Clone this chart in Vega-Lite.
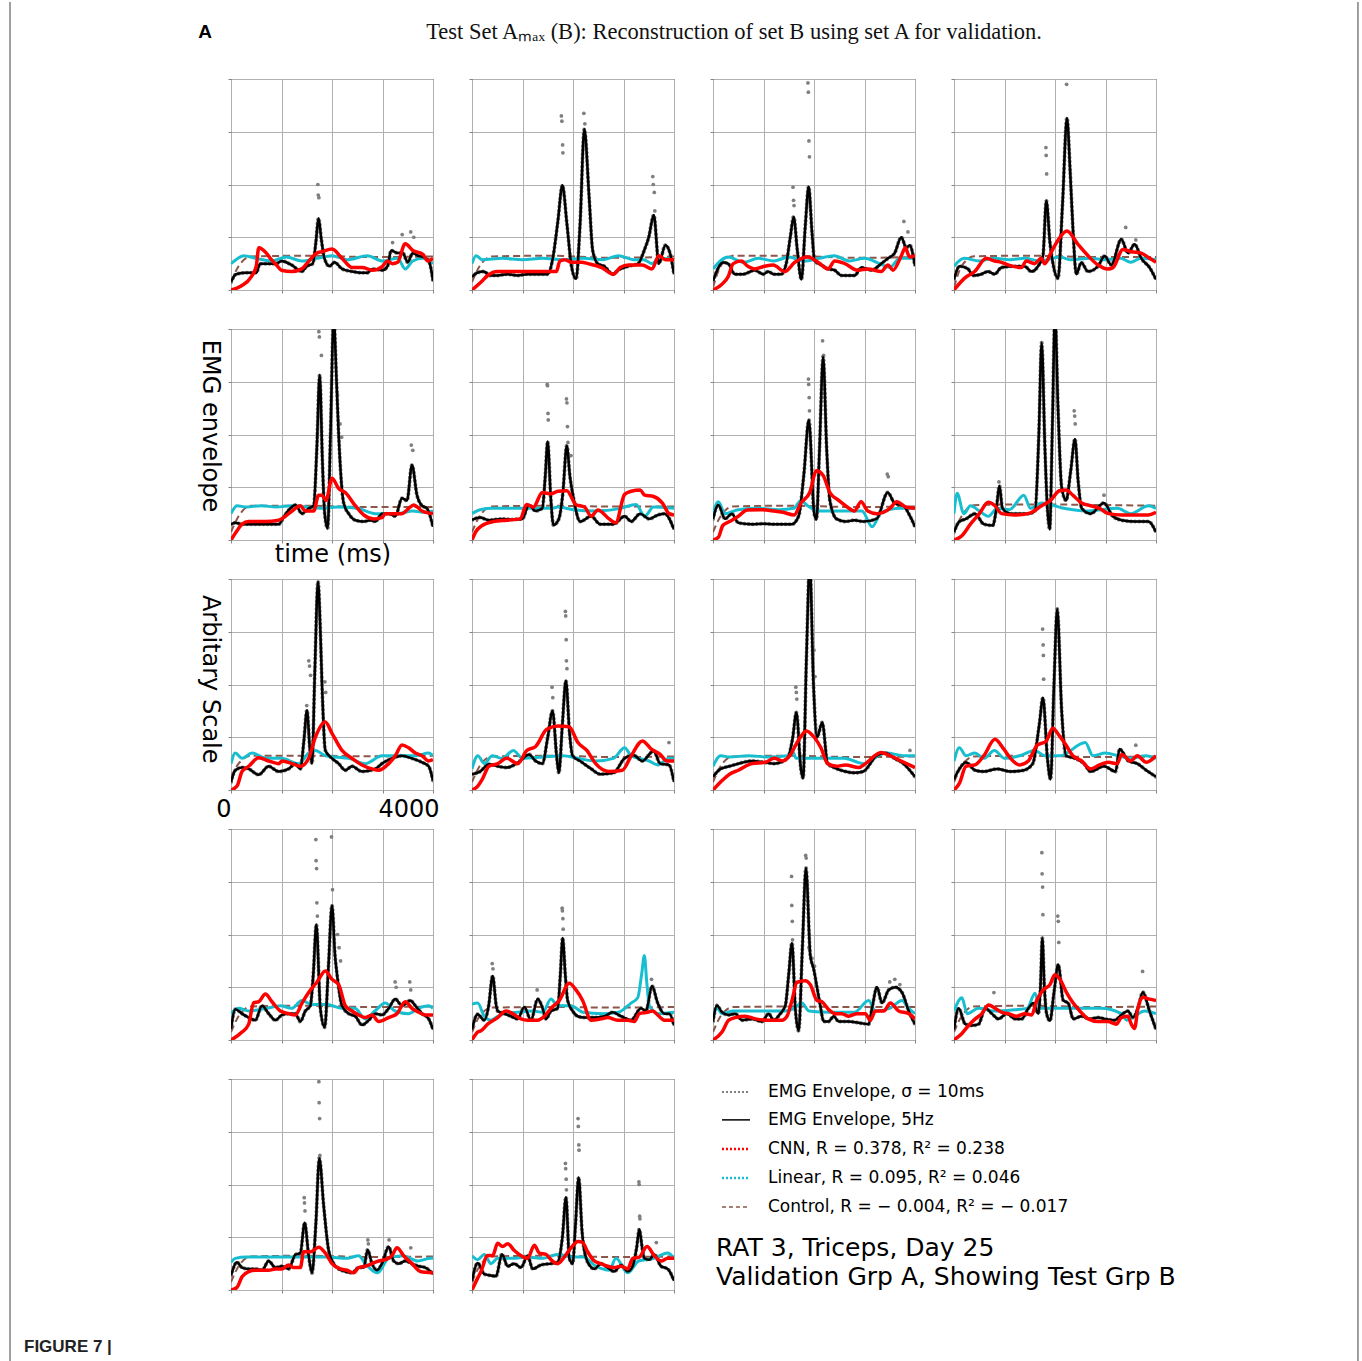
{
"$schema":"https://vega.github.io/schema/vega-lite/v6.json",
"padding":{"left":8,"top":0,"right":0,"bottom":0},
"background":"white",
"data":{"values":[
{"p":1,"s":"k","t":0,"v":0.3},{"p":1,"s":"k","t":100,"v":0.6},{"p":1,"s":"k","t":300,"v":0.65},{"p":1,"s":"k","t":500,"v":0.65},{"p":1,"s":"k","t":575,"v":1.0},{"p":1,"s":"k","t":700,"v":1.0},{"p":1,"s":"k","t":900,"v":1.0},{"p":1,"s":"k","t":1000,"v":1.1},{"p":1,"s":"k","t":1200,"v":0.95},{"p":1,"s":"k","t":1400,"v":0.7},{"p":1,"s":"k","t":1500,"v":0.9},{"p":1,"s":"k","t":1620,"v":1.0},{"p":1,"s":"k","t":1680,"v":1.8},{"p":1,"s":"k","t":1733,"v":2.72},{"p":1,"s":"k","t":1790,"v":1.9},{"p":1,"s":"k","t":1850,"v":1.2},{"p":1,"s":"k","t":1950,"v":0.9},{"p":1,"s":"k","t":2050,"v":1.05},{"p":1,"s":"k","t":2200,"v":0.8},{"p":1,"s":"k","t":2400,"v":0.7},{"p":1,"s":"k","t":2600,"v":0.65},{"p":1,"s":"k","t":2700,"v":0.65},{"p":1,"s":"k","t":2800,"v":0.8},{"p":1,"s":"k","t":3000,"v":0.75},{"p":1,"s":"k","t":3100,"v":0.9},{"p":1,"s":"k","t":3170,"v":1.5},{"p":1,"s":"k","t":3300,"v":1.4},{"p":1,"s":"k","t":3400,"v":1.4},{"p":1,"s":"k","t":3500,"v":1.05},{"p":1,"s":"k","t":3600,"v":1.4},{"p":1,"s":"k","t":3700,"v":1.3},{"p":1,"s":"k","t":3800,"v":1.25},{"p":1,"s":"k","t":3900,"v":1.15},{"p":1,"s":"k","t":3950,"v":0.9},{"p":1,"s":"k","t":4000,"v":0.35},
{"p":1,"s":"o","t":1720,"v":4.0},{"p":1,"s":"o","t":1728,"v":3.6},{"p":1,"s":"o","t":1740,"v":3.5},{"p":1,"s":"o","t":3200,"v":1.8},{"p":1,"s":"o","t":3390,"v":2.1},{"p":1,"s":"o","t":3560,"v":2.2},{"p":1,"s":"o","t":3620,"v":2.0},
{"p":1,"s":"r","t":0,"v":0},{"p":1,"s":"r","t":200,"v":0.15},{"p":1,"s":"r","t":400,"v":0.5},{"p":1,"s":"r","t":500,"v":0.9},{"p":1,"s":"r","t":550,"v":1.6},{"p":1,"s":"r","t":700,"v":1.4},{"p":1,"s":"r","t":800,"v":1.15},{"p":1,"s":"r","t":900,"v":0.95},{"p":1,"s":"r","t":1000,"v":0.75},{"p":1,"s":"r","t":1200,"v":0.7},{"p":1,"s":"r","t":1400,"v":0.8},{"p":1,"s":"r","t":1500,"v":1.0},{"p":1,"s":"r","t":1700,"v":1.4},{"p":1,"s":"r","t":1800,"v":1.45},{"p":1,"s":"r","t":2000,"v":1.55},{"p":1,"s":"r","t":2200,"v":1.2},{"p":1,"s":"r","t":2400,"v":0.85},{"p":1,"s":"r","t":2600,"v":0.85},{"p":1,"s":"r","t":2800,"v":0.75},{"p":1,"s":"r","t":3000,"v":0.9},{"p":1,"s":"r","t":3100,"v":1.1},{"p":1,"s":"r","t":3200,"v":1.0},{"p":1,"s":"r","t":3300,"v":1.05},{"p":1,"s":"r","t":3450,"v":1.75},{"p":1,"s":"r","t":3600,"v":1.5},{"p":1,"s":"r","t":3800,"v":1.35},{"p":1,"s":"r","t":3900,"v":1.1},{"p":1,"s":"r","t":4000,"v":1.2},
{"p":1,"s":"c","t":0,"v":1.0},{"p":1,"s":"c","t":100,"v":1.15},{"p":1,"s":"c","t":250,"v":1.3},{"p":1,"s":"c","t":500,"v":1.2},{"p":1,"s":"c","t":800,"v":1.1},{"p":1,"s":"c","t":1100,"v":1.25},{"p":1,"s":"c","t":1400,"v":1.1},{"p":1,"s":"c","t":1700,"v":1.2},{"p":1,"s":"c","t":2000,"v":1.3},{"p":1,"s":"c","t":2300,"v":1.15},{"p":1,"s":"c","t":2700,"v":1.3},{"p":1,"s":"c","t":3000,"v":1.1},{"p":1,"s":"c","t":3300,"v":1.2},{"p":1,"s":"c","t":3450,"v":0.8},{"p":1,"s":"c","t":3600,"v":1.1},{"p":1,"s":"c","t":3800,"v":1.2},{"p":1,"s":"c","t":4000,"v":1.0},
{"p":1,"s":"d","t":0,"v":0.3},{"p":1,"s":"d","t":150,"v":0.9},{"p":1,"s":"d","t":400,"v":1.27},{"p":1,"s":"d","t":1500,"v":1.3},{"p":1,"s":"d","t":2800,"v":1.25},{"p":1,"s":"d","t":4000,"v":1.27},

{"p":2,"s":"k","t":0,"v":0.5},{"p":2,"s":"k","t":100,"v":0.65},{"p":2,"s":"k","t":230,"v":0.7},{"p":2,"s":"k","t":365,"v":0.55},{"p":2,"s":"k","t":500,"v":0.55},{"p":2,"s":"k","t":700,"v":0.6},{"p":2,"s":"k","t":900,"v":0.55},{"p":2,"s":"k","t":1100,"v":0.6},{"p":2,"s":"k","t":1300,"v":0.6},{"p":2,"s":"k","t":1500,"v":0.6},{"p":2,"s":"k","t":1600,"v":1.2},{"p":2,"s":"k","t":1700,"v":2.6},{"p":2,"s":"k","t":1790,"v":3.97},{"p":2,"s":"k","t":1880,"v":2.5},{"p":2,"s":"k","t":1970,"v":0.9},{"p":2,"s":"k","t":2060,"v":0.42},{"p":2,"s":"k","t":2140,"v":2.5},{"p":2,"s":"k","t":2225,"v":6.1},{"p":2,"s":"k","t":2320,"v":3.5},{"p":2,"s":"k","t":2390,"v":1.5},{"p":2,"s":"k","t":2490,"v":1.0},{"p":2,"s":"k","t":2620,"v":0.9},{"p":2,"s":"k","t":2790,"v":0.6},{"p":2,"s":"k","t":2890,"v":0.75},{"p":2,"s":"k","t":3090,"v":0.9},{"p":2,"s":"k","t":3290,"v":1.0},{"p":2,"s":"k","t":3410,"v":1.5},{"p":2,"s":"k","t":3500,"v":2.0},{"p":2,"s":"k","t":3600,"v":2.84},{"p":2,"s":"k","t":3700,"v":1.0},{"p":2,"s":"k","t":3830,"v":1.7},{"p":2,"s":"k","t":3920,"v":1.4},{"p":2,"s":"k","t":4000,"v":0.6},
{"p":2,"s":"o","t":1770,"v":6.6},{"p":2,"s":"o","t":1780,"v":6.4},{"p":2,"s":"o","t":1795,"v":5.5},{"p":2,"s":"o","t":1800,"v":5.2},{"p":2,"s":"o","t":2215,"v":6.7},{"p":2,"s":"o","t":2235,"v":6.3},{"p":2,"s":"o","t":3580,"v":4.3},{"p":2,"s":"o","t":3590,"v":4.0},{"p":2,"s":"o","t":3610,"v":3.7},{"p":2,"s":"o","t":3620,"v":3.0},
{"p":2,"s":"r","t":0,"v":0},{"p":2,"s":"r","t":180,"v":0.3},{"p":2,"s":"r","t":310,"v":0.55},{"p":2,"s":"r","t":510,"v":0.7},{"p":2,"s":"r","t":800,"v":0.7},{"p":2,"s":"r","t":1100,"v":0.7},{"p":2,"s":"r","t":1440,"v":0.7},{"p":2,"s":"r","t":1670,"v":0.7},{"p":2,"s":"r","t":1740,"v":1.1},{"p":2,"s":"r","t":1840,"v":1.15},{"p":2,"s":"r","t":1970,"v":1.05},{"p":2,"s":"r","t":2170,"v":1.05},{"p":2,"s":"r","t":2300,"v":1.0},{"p":2,"s":"r","t":2570,"v":0.85},{"p":2,"s":"r","t":2800,"v":0.6},{"p":2,"s":"r","t":2935,"v":0.85},{"p":2,"s":"r","t":3100,"v":0.95},{"p":2,"s":"r","t":3370,"v":0.95},{"p":2,"s":"r","t":3566,"v":0.8},{"p":2,"s":"r","t":3700,"v":1.3},{"p":2,"s":"r","t":3830,"v":1.15},{"p":2,"s":"r","t":4000,"v":1.15},
{"p":2,"s":"c","t":0,"v":1.0},{"p":2,"s":"c","t":80,"v":1.3},{"p":2,"s":"c","t":200,"v":1.15},{"p":2,"s":"c","t":600,"v":1.2},{"p":2,"s":"c","t":1000,"v":1.15},{"p":2,"s":"c","t":1400,"v":1.2},{"p":2,"s":"c","t":1800,"v":1.15},{"p":2,"s":"c","t":2200,"v":1.2},{"p":2,"s":"c","t":2600,"v":1.15},{"p":2,"s":"c","t":2900,"v":1.3},{"p":2,"s":"c","t":3200,"v":1.15},{"p":2,"s":"c","t":3400,"v":1.15},{"p":2,"s":"c","t":3566,"v":1.0},{"p":2,"s":"c","t":3700,"v":1.2},{"p":2,"s":"c","t":4000,"v":1.15},
{"p":2,"s":"d","t":0,"v":0.3},{"p":2,"s":"d","t":150,"v":0.9},{"p":2,"s":"d","t":400,"v":1.27},{"p":2,"s":"d","t":1500,"v":1.3},{"p":2,"s":"d","t":2800,"v":1.22},{"p":2,"s":"d","t":4000,"v":1.27},

{"p":3,"s":"k","t":0,"v":0.34},{"p":3,"s":"k","t":200,"v":1.04},{"p":3,"s":"k","t":300,"v":1.0},{"p":3,"s":"k","t":430,"v":0.6},{"p":3,"s":"k","t":600,"v":0.6},{"p":3,"s":"k","t":825,"v":0.75},{"p":3,"s":"k","t":1000,"v":0.6},{"p":3,"s":"k","t":1090,"v":0.7},{"p":3,"s":"k","t":1200,"v":0.6},{"p":3,"s":"k","t":1350,"v":0.6},{"p":3,"s":"k","t":1450,"v":1.0},{"p":3,"s":"k","t":1530,"v":2.0},{"p":3,"s":"k","t":1597,"v":2.77},{"p":3,"s":"k","t":1670,"v":1.5},{"p":3,"s":"k","t":1750,"v":0.4},{"p":3,"s":"k","t":1830,"v":2.5},{"p":3,"s":"k","t":1894,"v":3.91},{"p":3,"s":"k","t":1960,"v":2.2},{"p":3,"s":"k","t":2013,"v":1.1},{"p":3,"s":"k","t":2145,"v":0.95},{"p":3,"s":"k","t":2277,"v":0.8},{"p":3,"s":"k","t":2409,"v":0.75},{"p":3,"s":"k","t":2541,"v":0.55},{"p":3,"s":"k","t":2805,"v":0.55},{"p":3,"s":"k","t":2937,"v":0.85},{"p":3,"s":"k","t":3135,"v":0.75},{"p":3,"s":"k","t":3333,"v":1.0},{"p":3,"s":"k","t":3465,"v":1.2},{"p":3,"s":"k","t":3597,"v":1.4},{"p":3,"s":"k","t":3729,"v":2.0},{"p":3,"s":"k","t":3828,"v":1.6},{"p":3,"s":"k","t":3894,"v":1.7},{"p":3,"s":"k","t":4000,"v":0.9},
{"p":3,"s":"o","t":1585,"v":3.9},{"p":3,"s":"o","t":1595,"v":3.4},{"p":3,"s":"o","t":1605,"v":3.2},{"p":3,"s":"o","t":1880,"v":7.85},{"p":3,"s":"o","t":1888,"v":7.5},{"p":3,"s":"o","t":1900,"v":5.65},{"p":3,"s":"o","t":1910,"v":5.05},{"p":3,"s":"o","t":3780,"v":2.6},{"p":3,"s":"o","t":3860,"v":2.2},
{"p":3,"s":"r","t":0,"v":0},{"p":3,"s":"r","t":165,"v":0.2},{"p":3,"s":"r","t":300,"v":0.5},{"p":3,"s":"r","t":400,"v":1.0},{"p":3,"s":"r","t":560,"v":1.1},{"p":3,"s":"r","t":690,"v":0.9},{"p":3,"s":"r","t":825,"v":0.8},{"p":3,"s":"r","t":1020,"v":0.9},{"p":3,"s":"r","t":1190,"v":0.95},{"p":3,"s":"r","t":1420,"v":0.7},{"p":3,"s":"r","t":1620,"v":1.05},{"p":3,"s":"r","t":1880,"v":1.25},{"p":3,"s":"r","t":2080,"v":1.05},{"p":3,"s":"r","t":2280,"v":0.8},{"p":3,"s":"r","t":2410,"v":1.1},{"p":3,"s":"r","t":2610,"v":1.0},{"p":3,"s":"r","t":2870,"v":0.75},{"p":3,"s":"r","t":3070,"v":0.8},{"p":3,"s":"r","t":3330,"v":0.7},{"p":3,"s":"r","t":3465,"v":0.95},{"p":3,"s":"r","t":3564,"v":0.75},{"p":3,"s":"r","t":3729,"v":1.3},{"p":3,"s":"r","t":3808,"v":1.6},{"p":3,"s":"r","t":3894,"v":1.25},{"p":3,"s":"r","t":4000,"v":1.3},
{"p":3,"s":"c","t":0,"v":0.8},{"p":3,"s":"c","t":300,"v":1.25},{"p":3,"s":"c","t":600,"v":1.05},{"p":3,"s":"c","t":900,"v":1.2},{"p":3,"s":"c","t":1200,"v":1.1},{"p":3,"s":"c","t":1500,"v":1.25},{"p":3,"s":"c","t":1800,"v":1.1},{"p":3,"s":"c","t":2100,"v":1.2},{"p":3,"s":"c","t":2400,"v":1.3},{"p":3,"s":"c","t":2700,"v":1.1},{"p":3,"s":"c","t":3000,"v":1.2},{"p":3,"s":"c","t":3300,"v":1.0},{"p":3,"s":"c","t":3500,"v":0.85},{"p":3,"s":"c","t":3700,"v":1.2},{"p":3,"s":"c","t":4000,"v":1.2},
{"p":3,"s":"d","t":0,"v":0.1},{"p":3,"s":"d","t":150,"v":0.9},{"p":3,"s":"d","t":400,"v":1.3},{"p":3,"s":"d","t":1500,"v":1.3},{"p":3,"s":"d","t":2800,"v":1.22},{"p":3,"s":"d","t":4000,"v":1.25},

{"p":4,"s":"k","t":0,"v":0.4},{"p":4,"s":"k","t":112,"v":0.9},{"p":4,"s":"k","t":277,"v":0.8},{"p":4,"s":"k","t":376,"v":0.55},{"p":4,"s":"k","t":541,"v":0.6},{"p":4,"s":"k","t":673,"v":0.7},{"p":4,"s":"k","t":805,"v":0.6},{"p":4,"s":"k","t":937,"v":0.85},{"p":4,"s":"k","t":1200,"v":0.9},{"p":4,"s":"k","t":1400,"v":0.9},{"p":4,"s":"k","t":1530,"v":0.7},{"p":4,"s":"k","t":1663,"v":0.9},{"p":4,"s":"k","t":1762,"v":1.3},{"p":4,"s":"k","t":1828,"v":3.38},{"p":4,"s":"k","t":1900,"v":1.8},{"p":4,"s":"k","t":1960,"v":1.0},{"p":4,"s":"k","t":2059,"v":0.44},{"p":4,"s":"k","t":2150,"v":3.3},{"p":4,"s":"k","t":2237,"v":6.52},{"p":4,"s":"k","t":2300,"v":4.5},{"p":4,"s":"k","t":2356,"v":2.3},{"p":4,"s":"k","t":2422,"v":0.6},{"p":4,"s":"k","t":2521,"v":1.04},{"p":4,"s":"k","t":2653,"v":0.7},{"p":4,"s":"k","t":2851,"v":0.9},{"p":4,"s":"k","t":2983,"v":1.29},{"p":4,"s":"k","t":3115,"v":0.95},{"p":4,"s":"k","t":3313,"v":1.92},{"p":4,"s":"k","t":3445,"v":1.4},{"p":4,"s":"k","t":3577,"v":1.73},{"p":4,"s":"k","t":3709,"v":1.2},{"p":4,"s":"k","t":3874,"v":0.85},{"p":4,"s":"k","t":4000,"v":0.4},
{"p":4,"s":"o","t":1820,"v":5.4},{"p":4,"s":"o","t":1825,"v":5.1},{"p":4,"s":"o","t":1835,"v":4.4},{"p":4,"s":"o","t":2230,"v":7.8},{"p":4,"s":"o","t":3400,"v":2.37},{"p":4,"s":"o","t":3600,"v":1.9},
{"p":4,"s":"r","t":0,"v":0},{"p":4,"s":"r","t":211,"v":0.45},{"p":4,"s":"r","t":409,"v":0.7},{"p":4,"s":"r","t":640,"v":1.2},{"p":4,"s":"r","t":805,"v":1.1},{"p":4,"s":"r","t":937,"v":1.05},{"p":4,"s":"r","t":1069,"v":0.95},{"p":4,"s":"r","t":1333,"v":0.85},{"p":4,"s":"r","t":1432,"v":1.1},{"p":4,"s":"r","t":1597,"v":1.0},{"p":4,"s":"r","t":1729,"v":1.2},{"p":4,"s":"r","t":1795,"v":1.0},{"p":4,"s":"r","t":1927,"v":1.44},{"p":4,"s":"r","t":2059,"v":1.89},{"p":4,"s":"r","t":2237,"v":2.24},{"p":4,"s":"r","t":2455,"v":1.73},{"p":4,"s":"r","t":2653,"v":1.3},{"p":4,"s":"r","t":2851,"v":0.95},{"p":4,"s":"r","t":3049,"v":0.8},{"p":4,"s":"r","t":3148,"v":0.85},{"p":4,"s":"r","t":3346,"v":1.54},{"p":4,"s":"r","t":3511,"v":1.45},{"p":4,"s":"r","t":3709,"v":1.4},{"p":4,"s":"r","t":3874,"v":1.2},{"p":4,"s":"r","t":4000,"v":1.05},
{"p":4,"s":"c","t":0,"v":0.9},{"p":4,"s":"c","t":200,"v":1.2},{"p":4,"s":"c","t":500,"v":1.1},{"p":4,"s":"c","t":800,"v":1.2},{"p":4,"s":"c","t":1100,"v":1.15},{"p":4,"s":"c","t":1400,"v":1.2},{"p":4,"s":"c","t":1700,"v":1.1},{"p":4,"s":"c","t":2100,"v":1.25},{"p":4,"s":"c","t":2300,"v":1.15},{"p":4,"s":"c","t":2700,"v":1.2},{"p":4,"s":"c","t":3000,"v":1.15},{"p":4,"s":"c","t":3300,"v":1.2},{"p":4,"s":"c","t":3500,"v":1.05},{"p":4,"s":"c","t":3700,"v":1.2},{"p":4,"s":"c","t":4000,"v":1.15},
{"p":4,"s":"d","t":0,"v":0.1},{"p":4,"s":"d","t":150,"v":0.9},{"p":4,"s":"d","t":400,"v":1.28},{"p":4,"s":"d","t":1500,"v":1.3},{"p":4,"s":"d","t":2800,"v":1.25},{"p":4,"s":"d","t":4000,"v":1.25},

{"p":5,"s":"k","t":0,"v":0.59},{"p":5,"s":"k","t":86,"v":0.65},{"p":5,"s":"k","t":218,"v":0.6},{"p":5,"s":"k","t":350,"v":0.6},{"p":5,"s":"k","t":548,"v":0.6},{"p":5,"s":"k","t":746,"v":0.6},{"p":5,"s":"k","t":944,"v":0.6},{"p":5,"s":"k","t":1076,"v":0.97},{"p":5,"s":"k","t":1274,"v":1.33},{"p":5,"s":"k","t":1406,"v":1.0},{"p":5,"s":"k","t":1538,"v":1.2},{"p":5,"s":"k","t":1637,"v":1.3},{"p":5,"s":"k","t":1700,"v":3.5},{"p":5,"s":"k","t":1756,"v":6.26},{"p":5,"s":"k","t":1810,"v":3.0},{"p":5,"s":"k","t":1855,"v":1.0},{"p":5,"s":"k","t":1914,"v":0.44},{"p":5,"s":"k","t":1970,"v":4.0},{"p":5,"s":"k","t":2033,"v":8.4},{"p":5,"s":"k","t":2090,"v":6.0},{"p":5,"s":"k","t":2132,"v":4.0},{"p":5,"s":"k","t":2231,"v":1.4},{"p":5,"s":"k","t":2330,"v":1.0},{"p":5,"s":"k","t":2462,"v":0.75},{"p":5,"s":"k","t":2627,"v":0.7},{"p":5,"s":"k","t":2759,"v":0.75},{"p":5,"s":"k","t":2858,"v":0.7},{"p":5,"s":"k","t":2990,"v":1.0},{"p":5,"s":"k","t":3122,"v":1.0},{"p":5,"s":"k","t":3254,"v":0.9},{"p":5,"s":"k","t":3386,"v":1.58},{"p":5,"s":"k","t":3485,"v":1.5},{"p":5,"s":"k","t":3584,"v":2.84},{"p":5,"s":"k","t":3683,"v":1.7},{"p":5,"s":"k","t":3782,"v":1.3},{"p":5,"s":"k","t":3881,"v":1.2},{"p":5,"s":"k","t":4000,"v":0.5},
{"p":5,"s":"o","t":1740,"v":7.9},{"p":5,"s":"o","t":1750,"v":7.7},{"p":5,"s":"o","t":1790,"v":7.0},{"p":5,"s":"o","t":2110,"v":5.5},{"p":5,"s":"o","t":2160,"v":4.4},{"p":5,"s":"o","t":2190,"v":3.9},{"p":5,"s":"o","t":3570,"v":3.6},{"p":5,"s":"o","t":3600,"v":3.4},
{"p":5,"s":"r","t":0,"v":0},{"p":5,"s":"r","t":119,"v":0.35},{"p":5,"s":"r","t":218,"v":0.6},{"p":5,"s":"r","t":350,"v":0.7},{"p":5,"s":"r","t":680,"v":0.7},{"p":5,"s":"r","t":944,"v":0.75},{"p":5,"s":"r","t":1076,"v":0.9},{"p":5,"s":"r","t":1208,"v":1.1},{"p":5,"s":"r","t":1373,"v":1.3},{"p":5,"s":"r","t":1472,"v":1.1},{"p":5,"s":"r","t":1637,"v":1.1},{"p":5,"s":"r","t":1736,"v":1.7},{"p":5,"s":"r","t":1802,"v":1.7},{"p":5,"s":"r","t":1881,"v":1.5},{"p":5,"s":"r","t":2000,"v":2.34},{"p":5,"s":"r","t":2132,"v":1.95},{"p":5,"s":"r","t":2264,"v":1.8},{"p":5,"s":"r","t":2462,"v":1.3},{"p":5,"s":"r","t":2627,"v":0.95},{"p":5,"s":"r","t":2825,"v":0.8},{"p":5,"s":"r","t":2990,"v":0.85},{"p":5,"s":"r","t":3056,"v":1.0},{"p":5,"s":"r","t":3254,"v":1.0},{"p":5,"s":"r","t":3386,"v":1.0},{"p":5,"s":"r","t":3518,"v":1.2},{"p":5,"s":"r","t":3617,"v":1.33},{"p":5,"s":"r","t":3782,"v":1.1},{"p":5,"s":"r","t":4000,"v":1.0},
{"p":5,"s":"c","t":0,"v":1.0},{"p":5,"s":"c","t":119,"v":1.3},{"p":5,"s":"c","t":300,"v":1.25},{"p":5,"s":"c","t":600,"v":1.3},{"p":5,"s":"c","t":900,"v":1.25},{"p":5,"s":"c","t":1200,"v":1.3},{"p":5,"s":"c","t":1500,"v":1.25},{"p":5,"s":"c","t":1800,"v":1.2},{"p":5,"s":"c","t":2100,"v":1.25},{"p":5,"s":"c","t":2500,"v":1.2},{"p":5,"s":"c","t":2860,"v":1.0},{"p":5,"s":"c","t":3300,"v":1.0},{"p":5,"s":"c","t":3600,"v":1.1},{"p":5,"s":"c","t":3800,"v":1.05},{"p":5,"s":"c","t":4000,"v":1.1},
{"p":5,"s":"d","t":0,"v":0.3},{"p":5,"s":"d","t":150,"v":0.9},{"p":5,"s":"d","t":400,"v":1.3},{"p":5,"s":"d","t":1500,"v":1.3},{"p":5,"s":"d","t":2800,"v":1.25},{"p":5,"s":"d","t":4000,"v":1.25},

{"p":6,"s":"k","t":0,"v":0.76},{"p":6,"s":"k","t":159,"v":0.85},{"p":6,"s":"k","t":335,"v":0.75},{"p":6,"s":"k","t":600,"v":0.8},{"p":6,"s":"k","t":800,"v":0.78},{"p":6,"s":"k","t":995,"v":0.8},{"p":6,"s":"k","t":1128,"v":1.33},{"p":6,"s":"k","t":1260,"v":1.1},{"p":6,"s":"k","t":1392,"v":1.2},{"p":6,"s":"k","t":1450,"v":2.4},{"p":6,"s":"k","t":1498,"v":3.73},{"p":6,"s":"k","t":1560,"v":1.6},{"p":6,"s":"k","t":1612,"v":0.57},{"p":6,"s":"k","t":1720,"v":0.8},{"p":6,"s":"k","t":1800,"v":1.8},{"p":6,"s":"k","t":1877,"v":3.57},{"p":6,"s":"k","t":1940,"v":2.4},{"p":6,"s":"k","t":2009,"v":1.6},{"p":6,"s":"k","t":2141,"v":0.7},{"p":6,"s":"k","t":2361,"v":0.9},{"p":6,"s":"k","t":2537,"v":0.6},{"p":6,"s":"k","t":2802,"v":0.6},{"p":6,"s":"k","t":3022,"v":0.9},{"p":6,"s":"k","t":3154,"v":0.7},{"p":6,"s":"k","t":3330,"v":1.0},{"p":6,"s":"k","t":3507,"v":0.8},{"p":6,"s":"k","t":3683,"v":0.95},{"p":6,"s":"k","t":3815,"v":1.0},{"p":6,"s":"k","t":4000,"v":0.4},
{"p":6,"s":"o","t":1490,"v":5.9},{"p":6,"s":"o","t":1495,"v":5.85},{"p":6,"s":"o","t":1505,"v":4.8},{"p":6,"s":"o","t":1510,"v":4.55},{"p":6,"s":"o","t":1870,"v":5.35},{"p":6,"s":"o","t":1880,"v":5.2},{"p":6,"s":"o","t":1890,"v":4.3},{"p":6,"s":"o","t":1900,"v":3.7},{"p":6,"s":"o","t":1960,"v":3.2},
{"p":6,"s":"r","t":0,"v":0},{"p":6,"s":"r","t":70,"v":0.3},{"p":6,"s":"r","t":203,"v":0.55},{"p":6,"s":"r","t":423,"v":0.7},{"p":6,"s":"r","t":687,"v":0.75},{"p":6,"s":"r","t":952,"v":0.8},{"p":6,"s":"r","t":1084,"v":1.35},{"p":6,"s":"r","t":1216,"v":1.25},{"p":6,"s":"r","t":1392,"v":1.8},{"p":6,"s":"r","t":1568,"v":1.75},{"p":6,"s":"r","t":1700,"v":1.85},{"p":6,"s":"r","t":1877,"v":1.87},{"p":6,"s":"r","t":2053,"v":1.35},{"p":6,"s":"r","t":2229,"v":1.25},{"p":6,"s":"r","t":2361,"v":0.9},{"p":6,"s":"r","t":2493,"v":1.14},{"p":6,"s":"r","t":2714,"v":0.8},{"p":6,"s":"r","t":2846,"v":0.65},{"p":6,"s":"r","t":3022,"v":1.73},{"p":6,"s":"r","t":3154,"v":1.85},{"p":6,"s":"r","t":3330,"v":1.9},{"p":6,"s":"r","t":3419,"v":1.7},{"p":6,"s":"r","t":3595,"v":1.65},{"p":6,"s":"r","t":3771,"v":1.4},{"p":6,"s":"r","t":3903,"v":1.0},{"p":6,"s":"r","t":4000,"v":0.95},
{"p":6,"s":"c","t":0,"v":1.0},{"p":6,"s":"c","t":159,"v":1.15},{"p":6,"s":"c","t":400,"v":1.2},{"p":6,"s":"c","t":800,"v":1.2},{"p":6,"s":"c","t":1200,"v":1.2},{"p":6,"s":"c","t":1568,"v":1.2},{"p":6,"s":"c","t":1700,"v":1.25},{"p":6,"s":"c","t":2009,"v":1.15},{"p":6,"s":"c","t":2449,"v":1.1},{"p":6,"s":"c","t":2934,"v":1.2},{"p":6,"s":"c","t":3250,"v":1.35},{"p":6,"s":"c","t":3419,"v":0.9},{"p":6,"s":"c","t":3595,"v":1.25},{"p":6,"s":"c","t":4000,"v":1.2},
{"p":6,"s":"d","t":0,"v":0.3},{"p":6,"s":"d","t":150,"v":0.9},{"p":6,"s":"d","t":400,"v":1.27},{"p":6,"s":"d","t":1500,"v":1.3},{"p":6,"s":"d","t":2800,"v":1.27},{"p":6,"s":"d","t":4000,"v":1.27},

{"p":7,"s":"k","t":0,"v":0.8},{"p":7,"s":"k","t":106,"v":1.33},{"p":7,"s":"k","t":238,"v":0.8},{"p":7,"s":"k","t":371,"v":1.0},{"p":7,"s":"k","t":503,"v":0.65},{"p":7,"s":"k","t":768,"v":0.6},{"p":7,"s":"k","t":1000,"v":0.62},{"p":7,"s":"k","t":1210,"v":0.6},{"p":7,"s":"k","t":1400,"v":0.6},{"p":7,"s":"k","t":1563,"v":0.6},{"p":7,"s":"k","t":1695,"v":0.9},{"p":7,"s":"k","t":1800,"v":2.5},{"p":7,"s":"k","t":1898,"v":4.55},{"p":7,"s":"k","t":2004,"v":1.0},{"p":7,"s":"k","t":2049,"v":0.78},{"p":7,"s":"k","t":2110,"v":3.5},{"p":7,"s":"k","t":2181,"v":6.95},{"p":7,"s":"k","t":2250,"v":3.5},{"p":7,"s":"k","t":2314,"v":1.5},{"p":7,"s":"k","t":2446,"v":0.8},{"p":7,"s":"k","t":2623,"v":0.7},{"p":7,"s":"k","t":2799,"v":0.75},{"p":7,"s":"k","t":2976,"v":0.7},{"p":7,"s":"k","t":3240,"v":0.8},{"p":7,"s":"k","t":3461,"v":1.8},{"p":7,"s":"k","t":3594,"v":1.4},{"p":7,"s":"k","t":3770,"v":1.3},{"p":7,"s":"k","t":3903,"v":0.9},{"p":7,"s":"k","t":4000,"v":0.5},
{"p":7,"s":"o","t":1890,"v":6.1},{"p":7,"s":"o","t":1895,"v":5.9},{"p":7,"s":"o","t":1905,"v":5.4},{"p":7,"s":"o","t":1910,"v":4.9},{"p":7,"s":"o","t":2170,"v":7.55},{"p":7,"s":"o","t":2190,"v":7.0},{"p":7,"s":"o","t":3450,"v":2.5},{"p":7,"s":"o","t":3470,"v":2.4},
{"p":7,"s":"r","t":0,"v":0},{"p":7,"s":"r","t":106,"v":0.1},{"p":7,"s":"r","t":194,"v":0.55},{"p":7,"s":"r","t":327,"v":0.7},{"p":7,"s":"r","t":503,"v":0.9},{"p":7,"s":"r","t":680,"v":1.14},{"p":7,"s":"r","t":945,"v":1.15},{"p":7,"s":"r","t":1210,"v":1.1},{"p":7,"s":"r","t":1386,"v":1.05},{"p":7,"s":"r","t":1607,"v":0.95},{"p":7,"s":"r","t":1740,"v":1.4},{"p":7,"s":"r","t":1916,"v":1.8},{"p":7,"s":"r","t":2049,"v":2.63},{"p":7,"s":"r","t":2181,"v":2.45},{"p":7,"s":"r","t":2314,"v":1.8},{"p":7,"s":"r","t":2490,"v":1.5},{"p":7,"s":"r","t":2623,"v":1.3},{"p":7,"s":"r","t":2799,"v":1.1},{"p":7,"s":"r","t":2932,"v":1.45},{"p":7,"s":"r","t":3064,"v":1.1},{"p":7,"s":"r","t":3240,"v":1.0},{"p":7,"s":"r","t":3505,"v":1.2},{"p":7,"s":"r","t":3638,"v":1.45},{"p":7,"s":"r","t":3815,"v":1.25},{"p":7,"s":"r","t":4000,"v":1.2},
{"p":7,"s":"c","t":0,"v":1.0},{"p":7,"s":"c","t":106,"v":1.45},{"p":7,"s":"c","t":238,"v":1.0},{"p":7,"s":"c","t":500,"v":1.15},{"p":7,"s":"c","t":900,"v":1.2},{"p":7,"s":"c","t":1300,"v":1.15},{"p":7,"s":"c","t":1600,"v":1.2},{"p":7,"s":"c","t":1740,"v":1.5},{"p":7,"s":"c","t":1872,"v":1.3},{"p":7,"s":"c","t":2100,"v":1.1},{"p":7,"s":"c","t":2600,"v":1.1},{"p":7,"s":"c","t":2950,"v":1.1},{"p":7,"s":"c","t":3152,"v":0.5},{"p":7,"s":"c","t":3330,"v":1.05},{"p":7,"s":"c","t":3700,"v":1.2},{"p":7,"s":"c","t":4000,"v":1.2},
{"p":7,"s":"d","t":0,"v":0.3},{"p":7,"s":"d","t":150,"v":0.9},{"p":7,"s":"d","t":400,"v":1.27},{"p":7,"s":"d","t":1500,"v":1.3},{"p":7,"s":"d","t":2800,"v":1.25},{"p":7,"s":"d","t":4000,"v":1.27},

{"p":8,"s":"k","t":0,"v":0.3},{"p":8,"s":"k","t":106,"v":0.7},{"p":8,"s":"k","t":238,"v":0.8},{"p":8,"s":"k","t":414,"v":1.0},{"p":8,"s":"k","t":590,"v":0.6},{"p":8,"s":"k","t":767,"v":0.55},{"p":8,"s":"k","t":840,"v":1.2},{"p":8,"s":"k","t":899,"v":2.06},{"p":8,"s":"k","t":960,"v":1.2},{"p":8,"s":"k","t":1119,"v":1.0},{"p":8,"s":"k","t":1295,"v":1.0},{"p":8,"s":"k","t":1471,"v":1.0},{"p":8,"s":"k","t":1604,"v":1.1},{"p":8,"s":"k","t":1680,"v":4.0},{"p":8,"s":"k","t":1736,"v":7.48},{"p":8,"s":"k","t":1800,"v":3.5},{"p":8,"s":"k","t":1841,"v":1.5},{"p":8,"s":"k","t":1894,"v":0.4},{"p":8,"s":"k","t":1950,"v":4.5},{"p":8,"s":"k","t":2000,"v":8.6},{"p":8,"s":"k","t":2060,"v":5.0},{"p":8,"s":"k","t":2132,"v":2.0},{"p":8,"s":"k","t":2220,"v":1.5},{"p":8,"s":"k","t":2310,"v":2.6},{"p":8,"s":"k","t":2396,"v":3.83},{"p":8,"s":"k","t":2460,"v":2.2},{"p":8,"s":"k","t":2529,"v":1.2},{"p":8,"s":"k","t":2705,"v":1.0},{"p":8,"s":"k","t":2969,"v":1.4},{"p":8,"s":"k","t":3145,"v":0.9},{"p":8,"s":"k","t":3322,"v":0.75},{"p":8,"s":"k","t":3586,"v":0.7},{"p":8,"s":"k","t":3850,"v":0.7},{"p":8,"s":"k","t":4000,"v":0.3},
{"p":8,"s":"o","t":890,"v":2.2},{"p":8,"s":"o","t":1730,"v":7.2},{"p":8,"s":"o","t":2010,"v":7.8},{"p":8,"s":"o","t":2380,"v":4.9},{"p":8,"s":"o","t":2390,"v":4.7},{"p":8,"s":"o","t":2400,"v":4.4},{"p":8,"s":"o","t":2970,"v":1.7},
{"p":8,"s":"r","t":0,"v":0},{"p":8,"s":"r","t":150,"v":0.15},{"p":8,"s":"r","t":326,"v":0.6},{"p":8,"s":"r","t":502,"v":1.0},{"p":8,"s":"r","t":678,"v":1.43},{"p":8,"s":"r","t":811,"v":1.3},{"p":8,"s":"r","t":943,"v":1.0},{"p":8,"s":"r","t":1207,"v":0.95},{"p":8,"s":"r","t":1471,"v":1.0},{"p":8,"s":"r","t":1736,"v":1.3},{"p":8,"s":"r","t":1912,"v":1.5},{"p":8,"s":"r","t":2088,"v":1.87},{"p":8,"s":"r","t":2220,"v":1.9},{"p":8,"s":"r","t":2352,"v":1.7},{"p":8,"s":"r","t":2529,"v":1.4},{"p":8,"s":"r","t":2705,"v":1.3},{"p":8,"s":"r","t":2881,"v":1.2},{"p":8,"s":"r","t":3057,"v":1.0},{"p":8,"s":"r","t":3322,"v":0.95},{"p":8,"s":"r","t":3586,"v":0.95},{"p":8,"s":"r","t":3850,"v":0.95},{"p":8,"s":"r","t":4000,"v":1.05},
{"p":8,"s":"c","t":0,"v":1.0},{"p":8,"s":"c","t":62,"v":1.77},{"p":8,"s":"c","t":194,"v":1.0},{"p":8,"s":"c","t":326,"v":1.3},{"p":8,"s":"c","t":502,"v":1.1},{"p":8,"s":"c","t":678,"v":0.9},{"p":8,"s":"c","t":855,"v":1.2},{"p":8,"s":"c","t":1100,"v":1.15},{"p":8,"s":"c","t":1383,"v":1.7},{"p":8,"s":"c","t":1515,"v":1.2},{"p":8,"s":"c","t":1736,"v":1.4},{"p":8,"s":"c","t":2176,"v":1.2},{"p":8,"s":"c","t":2600,"v":1.1},{"p":8,"s":"c","t":3233,"v":1.2},{"p":8,"s":"c","t":3500,"v":1.0},{"p":8,"s":"c","t":3850,"v":1.3},{"p":8,"s":"c","t":4000,"v":1.2},
{"p":8,"s":"d","t":0,"v":0.3},{"p":8,"s":"d","t":150,"v":0.9},{"p":8,"s":"d","t":400,"v":1.32},{"p":8,"s":"d","t":1500,"v":1.35},{"p":8,"s":"d","t":2800,"v":1.33},{"p":8,"s":"d","t":4000,"v":1.3},

{"p":9,"s":"k","t":0,"v":0.3},{"p":9,"s":"k","t":86,"v":0.75},{"p":9,"s":"k","t":218,"v":0.85},{"p":9,"s":"k","t":350,"v":0.8},{"p":9,"s":"k","t":548,"v":0.58},{"p":9,"s":"k","t":746,"v":0.9},{"p":9,"s":"k","t":944,"v":0.7},{"p":9,"s":"k","t":1142,"v":0.8},{"p":9,"s":"k","t":1274,"v":1.0},{"p":9,"s":"k","t":1373,"v":0.8},{"p":9,"s":"k","t":1440,"v":1.8},{"p":9,"s":"k","t":1505,"v":3.02},{"p":9,"s":"k","t":1560,"v":1.6},{"p":9,"s":"k","t":1604,"v":1.0},{"p":9,"s":"k","t":1660,"v":4.5},{"p":9,"s":"k","t":1723,"v":7.9},{"p":9,"s":"k","t":1770,"v":6.0},{"p":9,"s":"k","t":1802,"v":4.0},{"p":9,"s":"k","t":1868,"v":1.5},{"p":9,"s":"k","t":2000,"v":1.2},{"p":9,"s":"k","t":2132,"v":1.0},{"p":9,"s":"k","t":2264,"v":0.75},{"p":9,"s":"k","t":2396,"v":0.9},{"p":9,"s":"k","t":2594,"v":0.7},{"p":9,"s":"k","t":2858,"v":0.8},{"p":9,"s":"k","t":2990,"v":1.0},{"p":9,"s":"k","t":3188,"v":1.2},{"p":9,"s":"k","t":3386,"v":1.3},{"p":9,"s":"k","t":3584,"v":1.2},{"p":9,"s":"k","t":3782,"v":1.05},{"p":9,"s":"k","t":3914,"v":0.9},{"p":9,"s":"k","t":4000,"v":0.35},
{"p":9,"s":"o","t":1500,"v":3.2},{"p":9,"s":"o","t":1540,"v":4.9},{"p":9,"s":"o","t":1555,"v":4.7},{"p":9,"s":"o","t":1575,"v":4.35},{"p":9,"s":"o","t":1860,"v":4.1},{"p":9,"s":"o","t":1875,"v":3.7},
{"p":9,"s":"r","t":0,"v":0},{"p":9,"s":"r","t":119,"v":0.15},{"p":9,"s":"r","t":218,"v":0.7},{"p":9,"s":"r","t":350,"v":0.9},{"p":9,"s":"r","t":548,"v":1.22},{"p":9,"s":"r","t":746,"v":1.1},{"p":9,"s":"r","t":944,"v":1.0},{"p":9,"s":"r","t":1010,"v":1.1},{"p":9,"s":"r","t":1208,"v":1.0},{"p":9,"s":"r","t":1373,"v":0.9},{"p":9,"s":"r","t":1538,"v":1.2},{"p":9,"s":"r","t":1670,"v":2.0},{"p":9,"s":"r","t":1868,"v":2.58},{"p":9,"s":"r","t":2000,"v":2.15},{"p":9,"s":"r","t":2198,"v":1.5},{"p":9,"s":"r","t":2396,"v":1.2},{"p":9,"s":"r","t":2594,"v":0.95},{"p":9,"s":"r","t":2792,"v":0.8},{"p":9,"s":"r","t":2924,"v":0.75},{"p":9,"s":"r","t":3122,"v":1.0},{"p":9,"s":"r","t":3254,"v":1.3},{"p":9,"s":"r","t":3386,"v":1.71},{"p":9,"s":"r","t":3518,"v":1.6},{"p":9,"s":"r","t":3650,"v":1.4},{"p":9,"s":"r","t":3782,"v":1.3},{"p":9,"s":"r","t":3914,"v":1.1},{"p":9,"s":"r","t":4000,"v":1.15},
{"p":9,"s":"c","t":0,"v":1.0},{"p":9,"s":"c","t":86,"v":1.4},{"p":9,"s":"c","t":218,"v":1.2},{"p":9,"s":"c","t":416,"v":1.4},{"p":9,"s":"c","t":700,"v":1.2},{"p":9,"s":"c","t":1000,"v":1.2},{"p":9,"s":"c","t":1340,"v":1.0},{"p":9,"s":"c","t":1538,"v":1.4},{"p":9,"s":"c","t":1670,"v":1.5},{"p":9,"s":"c","t":1868,"v":1.3},{"p":9,"s":"c","t":2066,"v":1.25},{"p":9,"s":"c","t":2330,"v":1.2},{"p":9,"s":"c","t":2660,"v":1.0},{"p":9,"s":"c","t":2990,"v":1.3},{"p":9,"s":"c","t":3320,"v":1.3},{"p":9,"s":"c","t":3650,"v":1.3},{"p":9,"s":"c","t":3914,"v":1.4},{"p":9,"s":"c","t":4000,"v":1.3},
{"p":9,"s":"d","t":0,"v":0.5},{"p":9,"s":"d","t":150,"v":1.0},{"p":9,"s":"d","t":400,"v":1.3},{"p":9,"s":"d","t":1500,"v":1.3},{"p":9,"s":"d","t":2800,"v":1.28},{"p":9,"s":"d","t":4000,"v":1.3},

{"p":10,"s":"k","t":0,"v":0.6},{"p":10,"s":"k","t":159,"v":0.7},{"p":10,"s":"k","t":335,"v":0.98},{"p":10,"s":"k","t":511,"v":0.9},{"p":10,"s":"k","t":687,"v":0.85},{"p":10,"s":"k","t":952,"v":1.1},{"p":10,"s":"k","t":1128,"v":1.35},{"p":10,"s":"k","t":1260,"v":1.1},{"p":10,"s":"k","t":1392,"v":1.0},{"p":10,"s":"k","t":1500,"v":2.0},{"p":10,"s":"k","t":1594,"v":3.0},{"p":10,"s":"k","t":1680,"v":1.2},{"p":10,"s":"k","t":1720,"v":0.65},{"p":10,"s":"k","t":1790,"v":2.5},{"p":10,"s":"k","t":1859,"v":4.14},{"p":10,"s":"k","t":1930,"v":2.2},{"p":10,"s":"k","t":1991,"v":1.3},{"p":10,"s":"k","t":2141,"v":1.1},{"p":10,"s":"k","t":2361,"v":0.8},{"p":10,"s":"k","t":2537,"v":0.6},{"p":10,"s":"k","t":2802,"v":0.65},{"p":10,"s":"k","t":3022,"v":1.2},{"p":10,"s":"k","t":3198,"v":1.32},{"p":10,"s":"k","t":3374,"v":1.1},{"p":10,"s":"k","t":3595,"v":1.48},{"p":10,"s":"k","t":3727,"v":1.0},{"p":10,"s":"k","t":3903,"v":0.95},{"p":10,"s":"k","t":4000,"v":0.3},
{"p":10,"s":"o","t":1585,"v":3.9},{"p":10,"s":"o","t":1600,"v":3.5},{"p":10,"s":"o","t":1850,"v":6.77},{"p":10,"s":"o","t":1855,"v":6.6},{"p":10,"s":"o","t":1865,"v":5.7},{"p":10,"s":"o","t":1870,"v":4.9},{"p":10,"s":"o","t":1880,"v":4.6},{"p":10,"s":"o","t":3900,"v":1.8},
{"p":10,"s":"r","t":0,"v":0},{"p":10,"s":"r","t":115,"v":0.15},{"p":10,"s":"r","t":203,"v":0.4},{"p":10,"s":"r","t":335,"v":0.9},{"p":10,"s":"r","t":511,"v":1.0},{"p":10,"s":"r","t":687,"v":1.2},{"p":10,"s":"r","t":907,"v":1.0},{"p":10,"s":"r","t":1084,"v":1.5},{"p":10,"s":"r","t":1260,"v":1.65},{"p":10,"s":"r","t":1480,"v":2.3},{"p":10,"s":"r","t":1700,"v":2.43},{"p":10,"s":"r","t":1921,"v":2.4},{"p":10,"s":"r","t":2097,"v":1.8},{"p":10,"s":"r","t":2273,"v":1.5},{"p":10,"s":"r","t":2449,"v":1.0},{"p":10,"s":"r","t":2714,"v":0.7},{"p":10,"s":"r","t":2978,"v":0.75},{"p":10,"s":"r","t":3154,"v":1.3},{"p":10,"s":"r","t":3374,"v":1.86},{"p":10,"s":"r","t":3551,"v":1.55},{"p":10,"s":"r","t":3727,"v":1.35},{"p":10,"s":"r","t":3859,"v":1.1},{"p":10,"s":"r","t":4000,"v":1.1},
{"p":10,"s":"c","t":0,"v":0.8},{"p":10,"s":"c","t":115,"v":1.3},{"p":10,"s":"c","t":247,"v":1.0},{"p":10,"s":"c","t":400,"v":1.3},{"p":10,"s":"c","t":600,"v":1.2},{"p":10,"s":"c","t":819,"v":1.5},{"p":10,"s":"c","t":1000,"v":1.2},{"p":10,"s":"c","t":1400,"v":1.25},{"p":10,"s":"c","t":1800,"v":1.3},{"p":10,"s":"c","t":2100,"v":1.2},{"p":10,"s":"c","t":2449,"v":1.1},{"p":10,"s":"c","t":2800,"v":1.2},{"p":10,"s":"c","t":3022,"v":1.6},{"p":10,"s":"c","t":3154,"v":1.3},{"p":10,"s":"c","t":3507,"v":1.1},{"p":10,"s":"c","t":3683,"v":0.95},{"p":10,"s":"c","t":3900,"v":1.2},{"p":10,"s":"c","t":4000,"v":1.2},
{"p":10,"s":"d","t":0,"v":0.3},{"p":10,"s":"d","t":150,"v":0.9},{"p":10,"s":"d","t":400,"v":1.27},{"p":10,"s":"d","t":1500,"v":1.3},{"p":10,"s":"d","t":2800,"v":1.25},{"p":10,"s":"d","t":4000,"v":1.27},

{"p":11,"s":"k","t":0,"v":0.5},{"p":11,"s":"k","t":150,"v":0.8},{"p":11,"s":"k","t":327,"v":0.9},{"p":11,"s":"k","t":503,"v":1.0},{"p":11,"s":"k","t":768,"v":1.1},{"p":11,"s":"k","t":1000,"v":1.05},{"p":11,"s":"k","t":1210,"v":1.0},{"p":11,"s":"k","t":1475,"v":1.2},{"p":11,"s":"k","t":1580,"v":2.0},{"p":11,"s":"k","t":1651,"v":2.94},{"p":11,"s":"k","t":1740,"v":0.8},{"p":11,"s":"k","t":1784,"v":0.45},{"p":11,"s":"k","t":1850,"v":5.0},{"p":11,"s":"k","t":1916,"v":8.6},{"p":11,"s":"k","t":1990,"v":4.0},{"p":11,"s":"k","t":2060,"v":2.0},{"p":11,"s":"k","t":2163,"v":2.56},{"p":11,"s":"k","t":2270,"v":1.0},{"p":11,"s":"k","t":2402,"v":0.85},{"p":11,"s":"k","t":2623,"v":0.7},{"p":11,"s":"k","t":2799,"v":0.65},{"p":11,"s":"k","t":2976,"v":0.7},{"p":11,"s":"k","t":3240,"v":1.3},{"p":11,"s":"k","t":3417,"v":1.4},{"p":11,"s":"k","t":3594,"v":1.2},{"p":11,"s":"k","t":3770,"v":1.0},{"p":11,"s":"k","t":4000,"v":0.5},
{"p":11,"s":"o","t":1640,"v":3.9},{"p":11,"s":"o","t":1650,"v":3.7},{"p":11,"s":"o","t":1660,"v":3.45},{"p":11,"s":"o","t":2000,"v":5.3},{"p":11,"s":"o","t":2020,"v":4.3},{"p":11,"s":"o","t":3900,"v":1.5},
{"p":11,"s":"r","t":0,"v":0},{"p":11,"s":"r","t":150,"v":0.3},{"p":11,"s":"r","t":327,"v":0.6},{"p":11,"s":"r","t":503,"v":0.75},{"p":11,"s":"r","t":768,"v":1.0},{"p":11,"s":"r","t":1033,"v":1.05},{"p":11,"s":"r","t":1210,"v":1.2},{"p":11,"s":"r","t":1386,"v":1.1},{"p":11,"s":"r","t":1519,"v":1.3},{"p":11,"s":"r","t":1695,"v":1.9},{"p":11,"s":"r","t":1850,"v":2.24},{"p":11,"s":"r","t":2004,"v":2.0},{"p":11,"s":"r","t":2137,"v":1.6},{"p":11,"s":"r","t":2270,"v":1.0},{"p":11,"s":"r","t":2446,"v":0.9},{"p":11,"s":"r","t":2623,"v":0.95},{"p":11,"s":"r","t":2888,"v":0.85},{"p":11,"s":"r","t":3020,"v":1.0},{"p":11,"s":"r","t":3329,"v":1.42},{"p":11,"s":"r","t":3505,"v":1.3},{"p":11,"s":"r","t":3726,"v":1.1},{"p":11,"s":"r","t":4000,"v":0.85},
{"p":11,"s":"c","t":0,"v":0.9},{"p":11,"s":"c","t":150,"v":1.3},{"p":11,"s":"c","t":327,"v":1.25},{"p":11,"s":"c","t":700,"v":1.3},{"p":11,"s":"c","t":1100,"v":1.25},{"p":11,"s":"c","t":1475,"v":1.3},{"p":11,"s":"c","t":1563,"v":1.5},{"p":11,"s":"c","t":1651,"v":1.2},{"p":11,"s":"c","t":2000,"v":1.2},{"p":11,"s":"c","t":2600,"v":1.2},{"p":11,"s":"c","t":2976,"v":1.0},{"p":11,"s":"c","t":3417,"v":1.4},{"p":11,"s":"c","t":3800,"v":1.3},{"p":11,"s":"c","t":4000,"v":1.3},
{"p":11,"s":"d","t":0,"v":0.3},{"p":11,"s":"d","t":150,"v":0.9},{"p":11,"s":"d","t":400,"v":1.27},{"p":11,"s":"d","t":1500,"v":1.3},{"p":11,"s":"d","t":2800,"v":1.25},{"p":11,"s":"d","t":4000,"v":1.27},

{"p":12,"s":"k","t":0,"v":0.4},{"p":12,"s":"k","t":106,"v":0.8},{"p":12,"s":"k","t":238,"v":1.05},{"p":12,"s":"k","t":414,"v":0.75},{"p":12,"s":"k","t":590,"v":0.7},{"p":12,"s":"k","t":855,"v":0.8},{"p":12,"s":"k","t":1119,"v":0.7},{"p":12,"s":"k","t":1383,"v":0.75},{"p":12,"s":"k","t":1559,"v":1.0},{"p":12,"s":"k","t":1690,"v":2.5},{"p":12,"s":"k","t":1762,"v":3.5},{"p":12,"s":"k","t":1850,"v":1.2},{"p":12,"s":"k","t":1912,"v":0.4},{"p":12,"s":"k","t":1980,"v":4.0},{"p":12,"s":"k","t":2044,"v":6.86},{"p":12,"s":"k","t":2132,"v":3.0},{"p":12,"s":"k","t":2220,"v":1.3},{"p":12,"s":"k","t":2396,"v":1.2},{"p":12,"s":"k","t":2573,"v":1.0},{"p":12,"s":"k","t":2705,"v":0.7},{"p":12,"s":"k","t":2969,"v":0.9},{"p":12,"s":"k","t":3200,"v":0.7},{"p":12,"s":"k","t":3278,"v":1.55},{"p":12,"s":"k","t":3454,"v":1.1},{"p":12,"s":"k","t":3630,"v":1.0},{"p":12,"s":"k","t":3806,"v":0.75},{"p":12,"s":"k","t":4000,"v":0.5},
{"p":12,"s":"o","t":1755,"v":6.1},{"p":12,"s":"o","t":1765,"v":5.5},{"p":12,"s":"o","t":1770,"v":5.1},{"p":12,"s":"o","t":1775,"v":4.2},{"p":12,"s":"o","t":3600,"v":1.7},
{"p":12,"s":"r","t":0,"v":0},{"p":12,"s":"r","t":106,"v":0.25},{"p":12,"s":"r","t":238,"v":0.9},{"p":12,"s":"r","t":414,"v":0.95},{"p":12,"s":"r","t":590,"v":1.3},{"p":12,"s":"r","t":811,"v":1.92},{"p":12,"s":"r","t":987,"v":1.55},{"p":12,"s":"r","t":1119,"v":1.2},{"p":12,"s":"r","t":1295,"v":0.95},{"p":12,"s":"r","t":1471,"v":1.1},{"p":12,"s":"r","t":1647,"v":1.7},{"p":12,"s":"r","t":1824,"v":1.85},{"p":12,"s":"r","t":1956,"v":2.34},{"p":12,"s":"r","t":2088,"v":2.05},{"p":12,"s":"r","t":2220,"v":1.7},{"p":12,"s":"r","t":2352,"v":1.3},{"p":12,"s":"r","t":2529,"v":1.1},{"p":12,"s":"r","t":2705,"v":0.8},{"p":12,"s":"r","t":2881,"v":0.95},{"p":12,"s":"r","t":3057,"v":1.05},{"p":12,"s":"r","t":3233,"v":1.0},{"p":12,"s":"r","t":3322,"v":1.35},{"p":12,"s":"r","t":3498,"v":1.1},{"p":12,"s":"r","t":3630,"v":1.3},{"p":12,"s":"r","t":3806,"v":1.05},{"p":12,"s":"r","t":4000,"v":1.3},
{"p":12,"s":"c","t":0,"v":1.1},{"p":12,"s":"c","t":106,"v":1.6},{"p":12,"s":"c","t":238,"v":1.3},{"p":12,"s":"c","t":414,"v":1.4},{"p":12,"s":"c","t":590,"v":1.2},{"p":12,"s":"c","t":800,"v":1.5},{"p":12,"s":"c","t":1000,"v":1.2},{"p":12,"s":"c","t":1300,"v":1.3},{"p":12,"s":"c","t":1600,"v":1.5},{"p":12,"s":"c","t":1800,"v":1.3},{"p":12,"s":"c","t":2100,"v":1.3},{"p":12,"s":"c","t":2600,"v":1.8},{"p":12,"s":"c","t":2750,"v":1.3},{"p":12,"s":"c","t":3000,"v":1.4},{"p":12,"s":"c","t":3250,"v":1.3},{"p":12,"s":"c","t":3500,"v":1.2},{"p":12,"s":"c","t":3800,"v":1.3},{"p":12,"s":"c","t":4000,"v":1.2},
{"p":12,"s":"d","t":0,"v":0.3},{"p":12,"s":"d","t":150,"v":0.9},{"p":12,"s":"d","t":400,"v":1.27},{"p":12,"s":"d","t":1500,"v":1.3},{"p":12,"s":"d","t":2800,"v":1.25},{"p":12,"s":"d","t":4000,"v":1.27},

{"p":13,"s":"k","t":0,"v":0.42},{"p":13,"s":"k","t":86,"v":1.17},{"p":13,"s":"k","t":218,"v":1.0},{"p":13,"s":"k","t":350,"v":0.85},{"p":13,"s":"k","t":482,"v":0.75},{"p":13,"s":"k","t":614,"v":1.3},{"p":13,"s":"k","t":746,"v":1.0},{"p":13,"s":"k","t":878,"v":0.75},{"p":13,"s":"k","t":1010,"v":0.95},{"p":13,"s":"k","t":1142,"v":1.0},{"p":13,"s":"k","t":1274,"v":1.0},{"p":13,"s":"k","t":1373,"v":0.7},{"p":13,"s":"k","t":1472,"v":1.1},{"p":13,"s":"k","t":1571,"v":1.3},{"p":13,"s":"k","t":1630,"v":2.5},{"p":13,"s":"k","t":1690,"v":4.38},{"p":13,"s":"k","t":1769,"v":1.2},{"p":13,"s":"k","t":1855,"v":0.48},{"p":13,"s":"k","t":1930,"v":2.8},{"p":13,"s":"k","t":2000,"v":5.1},{"p":13,"s":"k","t":2060,"v":3.2},{"p":13,"s":"k","t":2099,"v":2.5},{"p":13,"s":"k","t":2198,"v":1.3},{"p":13,"s":"k","t":2330,"v":1.0},{"p":13,"s":"k","t":2462,"v":0.9},{"p":13,"s":"k","t":2594,"v":0.57},{"p":13,"s":"k","t":2726,"v":0.75},{"p":13,"s":"k","t":2858,"v":1.0},{"p":13,"s":"k","t":2990,"v":0.95},{"p":13,"s":"k","t":3122,"v":1.2},{"p":13,"s":"k","t":3254,"v":1.55},{"p":13,"s":"k","t":3386,"v":1.3},{"p":13,"s":"k","t":3551,"v":1.5},{"p":13,"s":"k","t":3650,"v":1.3},{"p":13,"s":"k","t":3782,"v":1.0},{"p":13,"s":"k","t":3914,"v":0.8},{"p":13,"s":"k","t":4000,"v":0.4},
{"p":13,"s":"o","t":1680,"v":7.6},{"p":13,"s":"o","t":1685,"v":6.8},{"p":13,"s":"o","t":1695,"v":6.5},{"p":13,"s":"o","t":1700,"v":5.2},{"p":13,"s":"o","t":1710,"v":4.7},{"p":13,"s":"o","t":1990,"v":7.7},{"p":13,"s":"o","t":2010,"v":5.7},{"p":13,"s":"o","t":2110,"v":4.0},{"p":13,"s":"o","t":2140,"v":3.5},{"p":13,"s":"o","t":2170,"v":3.0},{"p":13,"s":"o","t":3250,"v":2.2},{"p":13,"s":"o","t":3270,"v":2.0},{"p":13,"s":"o","t":3540,"v":2.2},{"p":13,"s":"o","t":3560,"v":1.9},
{"p":13,"s":"r","t":0,"v":0},{"p":13,"s":"r","t":218,"v":0.3},{"p":13,"s":"r","t":350,"v":0.6},{"p":13,"s":"r","t":449,"v":1.42},{"p":13,"s":"r","t":548,"v":1.45},{"p":13,"s":"r","t":680,"v":1.74},{"p":13,"s":"r","t":812,"v":1.45},{"p":13,"s":"r","t":977,"v":1.1},{"p":13,"s":"r","t":1142,"v":1.0},{"p":13,"s":"r","t":1274,"v":0.95},{"p":13,"s":"r","t":1406,"v":1.4},{"p":13,"s":"r","t":1538,"v":1.8},{"p":13,"s":"r","t":1703,"v":2.2},{"p":13,"s":"r","t":1868,"v":2.62},{"p":13,"s":"r","t":2000,"v":2.3},{"p":13,"s":"r","t":2132,"v":2.1},{"p":13,"s":"r","t":2264,"v":1.3},{"p":13,"s":"r","t":2396,"v":1.1},{"p":13,"s":"r","t":2528,"v":0.95},{"p":13,"s":"r","t":2660,"v":0.85},{"p":13,"s":"r","t":2792,"v":0.95},{"p":13,"s":"r","t":2924,"v":0.7},{"p":13,"s":"r","t":3122,"v":0.85},{"p":13,"s":"r","t":3287,"v":1.0},{"p":13,"s":"r","t":3452,"v":1.45},{"p":13,"s":"r","t":3584,"v":1.2},{"p":13,"s":"r","t":3716,"v":1.05},{"p":13,"s":"r","t":3848,"v":0.95},{"p":13,"s":"r","t":4000,"v":0.95},
{"p":13,"s":"c","t":0,"v":1.0},{"p":13,"s":"c","t":152,"v":1.2},{"p":13,"s":"c","t":350,"v":1.1},{"p":13,"s":"c","t":700,"v":1.2},{"p":13,"s":"c","t":977,"v":1.3},{"p":13,"s":"c","t":1200,"v":1.2},{"p":13,"s":"c","t":1406,"v":1.5},{"p":13,"s":"c","t":1600,"v":1.35},{"p":13,"s":"c","t":1900,"v":1.35},{"p":13,"s":"c","t":2200,"v":1.2},{"p":13,"s":"c","t":2450,"v":1.2},{"p":13,"s":"c","t":2660,"v":0.8},{"p":13,"s":"c","t":2850,"v":1.1},{"p":13,"s":"c","t":3056,"v":1.4},{"p":13,"s":"c","t":3250,"v":1.1},{"p":13,"s":"c","t":3518,"v":1.0},{"p":13,"s":"c","t":3700,"v":1.2},{"p":13,"s":"c","t":3914,"v":1.3},{"p":13,"s":"c","t":4000,"v":1.2},
{"p":13,"s":"d","t":0,"v":0.3},{"p":13,"s":"d","t":150,"v":0.9},{"p":13,"s":"d","t":400,"v":1.27},{"p":13,"s":"d","t":1500,"v":1.3},{"p":13,"s":"d","t":2800,"v":1.25},{"p":13,"s":"d","t":4000,"v":1.27},

{"p":14,"s":"k","t":0,"v":0.4},{"p":14,"s":"k","t":112,"v":0.98},{"p":14,"s":"k","t":244,"v":0.75},{"p":14,"s":"k","t":330,"v":1.3},{"p":14,"s":"k","t":409,"v":2.43},{"p":14,"s":"k","t":480,"v":1.3},{"p":14,"s":"k","t":508,"v":1.1},{"p":14,"s":"k","t":640,"v":1.0},{"p":14,"s":"k","t":772,"v":0.9},{"p":14,"s":"k","t":904,"v":0.8},{"p":14,"s":"k","t":1036,"v":1.25},{"p":14,"s":"k","t":1168,"v":0.75},{"p":14,"s":"k","t":1300,"v":1.55},{"p":14,"s":"k","t":1399,"v":1.2},{"p":14,"s":"k","t":1465,"v":0.8},{"p":14,"s":"k","t":1564,"v":1.1},{"p":14,"s":"k","t":1696,"v":1.2},{"p":14,"s":"k","t":1750,"v":2.5},{"p":14,"s":"k","t":1795,"v":3.87},{"p":14,"s":"k","t":1850,"v":2.4},{"p":14,"s":"k","t":1894,"v":1.5},{"p":14,"s":"k","t":1993,"v":1.1},{"p":14,"s":"k","t":2092,"v":0.9},{"p":14,"s":"k","t":2224,"v":0.85},{"p":14,"s":"k","t":2423,"v":0.85},{"p":14,"s":"k","t":2621,"v":0.9},{"p":14,"s":"k","t":2786,"v":1.05},{"p":14,"s":"k","t":2951,"v":0.9},{"p":14,"s":"k","t":3149,"v":0.75},{"p":14,"s":"k","t":3347,"v":1.2},{"p":14,"s":"k","t":3446,"v":1.1},{"p":14,"s":"k","t":3564,"v":2.05},{"p":14,"s":"k","t":3677,"v":1.4},{"p":14,"s":"k","t":3809,"v":1.0},{"p":14,"s":"k","t":3908,"v":1.0},{"p":14,"s":"k","t":4000,"v":0.55},
{"p":14,"s":"o","t":400,"v":2.9},{"p":14,"s":"o","t":415,"v":2.7},{"p":14,"s":"o","t":1290,"v":1.9},{"p":14,"s":"o","t":1785,"v":5.0},{"p":14,"s":"o","t":1790,"v":4.9},{"p":14,"s":"o","t":1800,"v":4.6},{"p":14,"s":"o","t":1805,"v":4.2},{"p":14,"s":"o","t":3555,"v":2.3},{"p":14,"s":"o","t":3570,"v":2.0},
{"p":14,"s":"r","t":0,"v":0},{"p":14,"s":"r","t":112,"v":0.3},{"p":14,"s":"r","t":178,"v":0.35},{"p":14,"s":"r","t":310,"v":0.6},{"p":14,"s":"r","t":508,"v":0.85},{"p":14,"s":"r","t":673,"v":1.1},{"p":14,"s":"r","t":805,"v":1.0},{"p":14,"s":"r","t":970,"v":0.8},{"p":14,"s":"r","t":1102,"v":0.75},{"p":14,"s":"r","t":1300,"v":0.75},{"p":14,"s":"r","t":1432,"v":0.9},{"p":14,"s":"r","t":1564,"v":1.2},{"p":14,"s":"r","t":1729,"v":1.5},{"p":14,"s":"r","t":1927,"v":2.15},{"p":14,"s":"r","t":2059,"v":1.9},{"p":14,"s":"r","t":2191,"v":1.5},{"p":14,"s":"r","t":2356,"v":0.75},{"p":14,"s":"r","t":2554,"v":0.8},{"p":14,"s":"r","t":2686,"v":0.85},{"p":14,"s":"r","t":2884,"v":0.75},{"p":14,"s":"r","t":3083,"v":0.75},{"p":14,"s":"r","t":3215,"v":0.7},{"p":14,"s":"r","t":3314,"v":1.0},{"p":14,"s":"r","t":3479,"v":1.05},{"p":14,"s":"r","t":3578,"v":1.1},{"p":14,"s":"r","t":3677,"v":0.95},{"p":14,"s":"r","t":3809,"v":0.75},{"p":14,"s":"r","t":4000,"v":0.75},
{"p":14,"s":"c","t":0,"v":1.36},{"p":14,"s":"c","t":112,"v":1.4},{"p":14,"s":"c","t":244,"v":0.9},{"p":14,"s":"c","t":376,"v":0.75},{"p":14,"s":"c","t":508,"v":0.9},{"p":14,"s":"c","t":640,"v":1.0},{"p":14,"s":"c","t":900,"v":1.05},{"p":14,"s":"c","t":1200,"v":1.1},{"p":14,"s":"c","t":1400,"v":1.05},{"p":14,"s":"c","t":1564,"v":1.55},{"p":14,"s":"c","t":1696,"v":1.3},{"p":14,"s":"c","t":1960,"v":1.3},{"p":14,"s":"c","t":2200,"v":1.05},{"p":14,"s":"c","t":2600,"v":1.0},{"p":14,"s":"c","t":2900,"v":1.05},{"p":14,"s":"c","t":3149,"v":1.4},{"p":14,"s":"c","t":3281,"v":1.6},{"p":14,"s":"c","t":3360,"v":2.5},{"p":14,"s":"c","t":3413,"v":3.2},{"p":14,"s":"c","t":3460,"v":2.2},{"p":14,"s":"c","t":3512,"v":1.3},{"p":14,"s":"c","t":3700,"v":1.0},{"p":14,"s":"c","t":4000,"v":1.05},
{"p":14,"s":"d","t":0,"v":0.3},{"p":14,"s":"d","t":150,"v":0.9},{"p":14,"s":"d","t":400,"v":1.23},{"p":14,"s":"d","t":1500,"v":1.25},{"p":14,"s":"d","t":2800,"v":1.23},{"p":14,"s":"d","t":4000,"v":1.25},

{"p":15,"s":"k","t":0,"v":0.7},{"p":15,"s":"k","t":79,"v":1.31},{"p":15,"s":"k","t":178,"v":1.05},{"p":15,"s":"k","t":310,"v":0.95},{"p":15,"s":"k","t":442,"v":1.0},{"p":15,"s":"k","t":574,"v":0.75},{"p":15,"s":"k","t":772,"v":0.8},{"p":15,"s":"k","t":970,"v":0.7},{"p":15,"s":"k","t":1102,"v":1.0},{"p":15,"s":"k","t":1201,"v":0.75},{"p":15,"s":"k","t":1333,"v":1.0},{"p":15,"s":"k","t":1432,"v":1.3},{"p":15,"s":"k","t":1500,"v":2.5},{"p":15,"s":"k","t":1564,"v":3.68},{"p":15,"s":"k","t":1630,"v":1.2},{"p":15,"s":"k","t":1696,"v":0.35},{"p":15,"s":"k","t":1770,"v":3.5},{"p":15,"s":"k","t":1841,"v":6.52},{"p":15,"s":"k","t":1927,"v":3.2},{"p":15,"s":"k","t":1993,"v":2.7},{"p":15,"s":"k","t":2059,"v":2.0},{"p":15,"s":"k","t":2125,"v":1.3},{"p":15,"s":"k","t":2191,"v":0.7},{"p":15,"s":"k","t":2290,"v":0.7},{"p":15,"s":"k","t":2389,"v":0.9},{"p":15,"s":"k","t":2488,"v":0.7},{"p":15,"s":"k","t":2686,"v":0.7},{"p":15,"s":"k","t":2884,"v":0.65},{"p":15,"s":"k","t":3083,"v":0.6},{"p":15,"s":"k","t":3149,"v":1.2},{"p":15,"s":"k","t":3248,"v":2.0},{"p":15,"s":"k","t":3347,"v":1.4},{"p":15,"s":"k","t":3479,"v":1.9},{"p":15,"s":"k","t":3611,"v":2.0},{"p":15,"s":"k","t":3743,"v":1.8},{"p":15,"s":"k","t":3875,"v":1.1},{"p":15,"s":"k","t":4000,"v":0.6},
{"p":15,"s":"o","t":1555,"v":6.2},{"p":15,"s":"o","t":1560,"v":5.1},{"p":15,"s":"o","t":1570,"v":4.5},{"p":15,"s":"o","t":1575,"v":3.8},{"p":15,"s":"o","t":1835,"v":7.0},{"p":15,"s":"o","t":1845,"v":6.9},{"p":15,"s":"o","t":1900,"v":3.5},{"p":15,"s":"o","t":1960,"v":3.1},{"p":15,"s":"o","t":2010,"v":2.8},{"p":15,"s":"o","t":3500,"v":2.2},{"p":15,"s":"o","t":3600,"v":2.3},{"p":15,"s":"o","t":3700,"v":2.1},
{"p":15,"s":"r","t":0,"v":0},{"p":15,"s":"r","t":178,"v":0.3},{"p":15,"s":"r","t":310,"v":0.75},{"p":15,"s":"r","t":442,"v":0.85},{"p":15,"s":"r","t":640,"v":0.9},{"p":15,"s":"r","t":838,"v":0.8},{"p":15,"s":"r","t":1102,"v":0.75},{"p":15,"s":"r","t":1366,"v":0.75},{"p":15,"s":"r","t":1465,"v":0.9},{"p":15,"s":"r","t":1564,"v":1.5},{"p":15,"s":"r","t":1663,"v":2.19},{"p":15,"s":"r","t":1828,"v":2.25},{"p":15,"s":"r","t":1927,"v":2.1},{"p":15,"s":"r","t":2059,"v":1.5},{"p":15,"s":"r","t":2158,"v":1.45},{"p":15,"s":"r","t":2290,"v":1.15},{"p":15,"s":"r","t":2422,"v":1.0},{"p":15,"s":"r","t":2554,"v":1.0},{"p":15,"s":"r","t":2686,"v":0.9},{"p":15,"s":"r","t":2851,"v":1.0},{"p":15,"s":"r","t":3016,"v":1.0},{"p":15,"s":"r","t":3115,"v":0.75},{"p":15,"s":"r","t":3215,"v":1.1},{"p":15,"s":"r","t":3380,"v":1.1},{"p":15,"s":"r","t":3512,"v":1.4},{"p":15,"s":"r","t":3677,"v":1.1},{"p":15,"s":"r","t":3875,"v":1.0},{"p":15,"s":"r","t":4000,"v":0.8},
{"p":15,"s":"c","t":0,"v":0.85},{"p":15,"s":"c","t":79,"v":1.2},{"p":15,"s":"c","t":178,"v":1.0},{"p":15,"s":"c","t":400,"v":1.1},{"p":15,"s":"c","t":800,"v":1.1},{"p":15,"s":"c","t":1200,"v":1.1},{"p":15,"s":"c","t":1432,"v":1.1},{"p":15,"s":"c","t":1600,"v":1.2},{"p":15,"s":"c","t":1762,"v":1.4},{"p":15,"s":"c","t":1900,"v":1.1},{"p":15,"s":"c","t":2300,"v":1.05},{"p":15,"s":"c","t":2800,"v":1.05},{"p":15,"s":"c","t":3083,"v":1.5},{"p":15,"s":"c","t":3215,"v":1.1},{"p":15,"s":"c","t":3500,"v":1.2},{"p":15,"s":"c","t":3743,"v":1.5},{"p":15,"s":"c","t":3875,"v":1.2},{"p":15,"s":"c","t":4000,"v":1.0},
{"p":15,"s":"d","t":0,"v":0.3},{"p":15,"s":"d","t":150,"v":0.9},{"p":15,"s":"d","t":400,"v":1.25},{"p":15,"s":"d","t":1500,"v":1.27},{"p":15,"s":"d","t":2800,"v":1.25},{"p":15,"s":"d","t":4000,"v":1.25},

{"p":16,"s":"k","t":0,"v":0.4},{"p":16,"s":"k","t":92,"v":1.2},{"p":16,"s":"k","t":224,"v":0.6},{"p":16,"s":"k","t":356,"v":0.55},{"p":16,"s":"k","t":487,"v":0.6},{"p":16,"s":"k","t":619,"v":1.2},{"p":16,"s":"k","t":750,"v":1.0},{"p":16,"s":"k","t":882,"v":0.8},{"p":16,"s":"k","t":1046,"v":1.0},{"p":16,"s":"k","t":1210,"v":0.8},{"p":16,"s":"k","t":1341,"v":0.8},{"p":16,"s":"k","t":1473,"v":1.2},{"p":16,"s":"k","t":1571,"v":1.4},{"p":16,"s":"k","t":1670,"v":1.0},{"p":16,"s":"k","t":1712,"v":2.0},{"p":16,"s":"k","t":1749,"v":3.86},{"p":16,"s":"k","t":1790,"v":2.0},{"p":16,"s":"k","t":1834,"v":1.0},{"p":16,"s":"k","t":1900,"v":0.73},{"p":16,"s":"k","t":1980,"v":1.8},{"p":16,"s":"k","t":2064,"v":2.86},{"p":16,"s":"k","t":2163,"v":1.5},{"p":16,"s":"k","t":2262,"v":1.4},{"p":16,"s":"k","t":2360,"v":0.8},{"p":16,"s":"k","t":2525,"v":0.9},{"p":16,"s":"k","t":2689,"v":0.8},{"p":16,"s":"k","t":2853,"v":0.85},{"p":16,"s":"k","t":2984,"v":0.8},{"p":16,"s":"k","t":3181,"v":0.75},{"p":16,"s":"k","t":3313,"v":0.95},{"p":16,"s":"k","t":3444,"v":1.1},{"p":16,"s":"k","t":3543,"v":0.85},{"p":16,"s":"k","t":3641,"v":1.2},{"p":16,"s":"k","t":3740,"v":1.81},{"p":16,"s":"k","t":3871,"v":1.1},{"p":16,"s":"k","t":4000,"v":0.4},
{"p":16,"s":"o","t":790,"v":1.8},{"p":16,"s":"o","t":1740,"v":7.1},{"p":16,"s":"o","t":1745,"v":6.3},{"p":16,"s":"o","t":1755,"v":5.8},{"p":16,"s":"o","t":1760,"v":4.75},{"p":16,"s":"o","t":2055,"v":4.7},{"p":16,"s":"o","t":2065,"v":4.5},{"p":16,"s":"o","t":2075,"v":3.7},{"p":16,"s":"o","t":3735,"v":2.6},
{"p":16,"s":"r","t":0,"v":0},{"p":16,"s":"r","t":157,"v":0.25},{"p":16,"s":"r","t":289,"v":0.55},{"p":16,"s":"r","t":421,"v":0.8},{"p":16,"s":"r","t":553,"v":1.0},{"p":16,"s":"r","t":684,"v":1.33},{"p":16,"s":"r","t":816,"v":1.2},{"p":16,"s":"r","t":948,"v":1.05},{"p":16,"s":"r","t":1079,"v":1.0},{"p":16,"s":"r","t":1243,"v":0.9},{"p":16,"s":"r","t":1407,"v":1.0},{"p":16,"s":"r","t":1538,"v":0.95},{"p":16,"s":"r","t":1637,"v":1.5},{"p":16,"s":"r","t":1768,"v":1.9},{"p":16,"s":"r","t":1900,"v":2.1},{"p":16,"s":"r","t":1998,"v":2.47},{"p":16,"s":"r","t":2097,"v":2.3},{"p":16,"s":"r","t":2229,"v":1.8},{"p":16,"s":"r","t":2360,"v":1.4},{"p":16,"s":"r","t":2492,"v":1.1},{"p":16,"s":"r","t":2656,"v":0.8},{"p":16,"s":"r","t":2853,"v":0.7},{"p":16,"s":"r","t":3050,"v":0.7},{"p":16,"s":"r","t":3214,"v":0.6},{"p":16,"s":"r","t":3313,"v":0.85},{"p":16,"s":"r","t":3444,"v":0.9},{"p":16,"s":"r","t":3510,"v":0.6},{"p":16,"s":"r","t":3576,"v":0.44},{"p":16,"s":"r","t":3641,"v":1.2},{"p":16,"s":"r","t":3740,"v":1.62},{"p":16,"s":"r","t":3871,"v":1.55},{"p":16,"s":"r","t":4000,"v":1.5},
{"p":16,"s":"c","t":0,"v":1.1},{"p":16,"s":"c","t":157,"v":1.6},{"p":16,"s":"c","t":260,"v":1.0},{"p":16,"s":"c","t":487,"v":1.2},{"p":16,"s":"c","t":800,"v":1.1},{"p":16,"s":"c","t":1200,"v":1.15},{"p":16,"s":"c","t":1450,"v":1.2},{"p":16,"s":"c","t":1604,"v":1.77},{"p":16,"s":"c","t":1700,"v":1.2},{"p":16,"s":"c","t":2000,"v":1.2},{"p":16,"s":"c","t":2400,"v":1.2},{"p":16,"s":"c","t":2900,"v":1.2},{"p":16,"s":"c","t":3313,"v":1.0},{"p":16,"s":"c","t":3420,"v":0.75},{"p":16,"s":"c","t":3576,"v":0.9},{"p":16,"s":"c","t":3773,"v":1.1},{"p":16,"s":"c","t":4000,"v":1.0},
{"p":16,"s":"d","t":0,"v":0.3},{"p":16,"s":"d","t":150,"v":0.9},{"p":16,"s":"d","t":400,"v":1.27},{"p":16,"s":"d","t":1500,"v":1.3},{"p":16,"s":"d","t":2800,"v":1.25},{"p":16,"s":"d","t":4000,"v":1.27},

{"p":17,"s":"k","t":0,"v":0.55},{"p":17,"s":"k","t":119,"v":1.05},{"p":17,"s":"k","t":218,"v":0.85},{"p":17,"s":"k","t":350,"v":0.8},{"p":17,"s":"k","t":482,"v":0.8},{"p":17,"s":"k","t":614,"v":0.75},{"p":17,"s":"k","t":746,"v":1.1},{"p":17,"s":"k","t":878,"v":0.85},{"p":17,"s":"k","t":1010,"v":0.9},{"p":17,"s":"k","t":1142,"v":0.8},{"p":17,"s":"k","t":1274,"v":1.34},{"p":17,"s":"k","t":1373,"v":1.4},{"p":17,"s":"k","t":1459,"v":2.55},{"p":17,"s":"k","t":1538,"v":1.3},{"p":17,"s":"k","t":1604,"v":0.65},{"p":17,"s":"k","t":1680,"v":2.5},{"p":17,"s":"k","t":1749,"v":5.0},{"p":17,"s":"k","t":1835,"v":3.2},{"p":17,"s":"k","t":1934,"v":1.5},{"p":17,"s":"k","t":2033,"v":1.0},{"p":17,"s":"k","t":2132,"v":0.8},{"p":17,"s":"k","t":2264,"v":0.7},{"p":17,"s":"k","t":2396,"v":0.65},{"p":17,"s":"k","t":2528,"v":0.85},{"p":17,"s":"k","t":2627,"v":0.85},{"p":17,"s":"k","t":2706,"v":1.52},{"p":17,"s":"k","t":2792,"v":1.0},{"p":17,"s":"k","t":2891,"v":0.75},{"p":17,"s":"k","t":2990,"v":1.0},{"p":17,"s":"k","t":3122,"v":1.64},{"p":17,"s":"k","t":3221,"v":1.1},{"p":17,"s":"k","t":3320,"v":1.0},{"p":17,"s":"k","t":3452,"v":1.1},{"p":17,"s":"k","t":3584,"v":1.0},{"p":17,"s":"k","t":3716,"v":0.9},{"p":17,"s":"k","t":3848,"v":0.85},{"p":17,"s":"k","t":4000,"v":0.6},
{"p":17,"s":"o","t":1450,"v":3.5},{"p":17,"s":"o","t":1455,"v":3.3},{"p":17,"s":"o","t":1465,"v":3.0},{"p":17,"s":"o","t":1740,"v":7.9},{"p":17,"s":"o","t":1745,"v":7.1},{"p":17,"s":"o","t":1755,"v":6.5},{"p":17,"s":"o","t":1760,"v":5.1},{"p":17,"s":"o","t":2710,"v":1.9},{"p":17,"s":"o","t":2720,"v":1.75},{"p":17,"s":"o","t":3130,"v":1.9},{"p":17,"s":"o","t":3560,"v":1.6},
{"p":17,"s":"r","t":0,"v":0},{"p":17,"s":"r","t":119,"v":0.1},{"p":17,"s":"r","t":218,"v":0.5},{"p":17,"s":"r","t":350,"v":0.7},{"p":17,"s":"r","t":482,"v":0.75},{"p":17,"s":"r","t":746,"v":0.75},{"p":17,"s":"r","t":878,"v":0.8},{"p":17,"s":"r","t":1010,"v":0.8},{"p":17,"s":"r","t":1142,"v":0.95},{"p":17,"s":"r","t":1241,"v":0.85},{"p":17,"s":"r","t":1373,"v":0.85},{"p":17,"s":"r","t":1439,"v":1.45},{"p":17,"s":"r","t":1571,"v":1.45},{"p":17,"s":"r","t":1736,"v":1.62},{"p":17,"s":"r","t":1868,"v":1.4},{"p":17,"s":"r","t":2000,"v":1.0},{"p":17,"s":"r","t":2165,"v":0.8},{"p":17,"s":"r","t":2297,"v":0.75},{"p":17,"s":"r","t":2429,"v":0.65},{"p":17,"s":"r","t":2528,"v":0.85},{"p":17,"s":"r","t":2660,"v":0.9},{"p":17,"s":"r","t":2792,"v":1.0},{"p":17,"s":"r","t":2924,"v":1.1},{"p":17,"s":"r","t":3056,"v":1.15},{"p":17,"s":"r","t":3188,"v":1.3},{"p":17,"s":"r","t":3287,"v":1.6},{"p":17,"s":"r","t":3419,"v":1.3},{"p":17,"s":"r","t":3584,"v":1.0},{"p":17,"s":"r","t":3749,"v":0.7},{"p":17,"s":"r","t":4000,"v":0.65},
{"p":17,"s":"c","t":0,"v":1.05},{"p":17,"s":"c","t":86,"v":1.2},{"p":17,"s":"c","t":300,"v":1.25},{"p":17,"s":"c","t":700,"v":1.25},{"p":17,"s":"c","t":1100,"v":1.25},{"p":17,"s":"c","t":1500,"v":1.25},{"p":17,"s":"c","t":1900,"v":1.25},{"p":17,"s":"c","t":2300,"v":1.2},{"p":17,"s":"c","t":2528,"v":1.3},{"p":17,"s":"c","t":2660,"v":1.0},{"p":17,"s":"c","t":2900,"v":0.65},{"p":17,"s":"c","t":3122,"v":1.2},{"p":17,"s":"c","t":3400,"v":1.3},{"p":17,"s":"c","t":3700,"v":1.1},{"p":17,"s":"c","t":3950,"v":1.2},{"p":17,"s":"c","t":4000,"v":1.2},
{"p":17,"s":"d","t":0,"v":0.3},{"p":17,"s":"d","t":150,"v":0.9},{"p":17,"s":"d","t":400,"v":1.27},{"p":17,"s":"d","t":1500,"v":1.3},{"p":17,"s":"d","t":2800,"v":1.25},{"p":17,"s":"d","t":4000,"v":1.27},

{"p":18,"s":"k","t":0,"v":0.35},{"p":18,"s":"k","t":112,"v":1.02},{"p":18,"s":"k","t":244,"v":0.6},{"p":18,"s":"k","t":376,"v":0.55},{"p":18,"s":"k","t":475,"v":0.52},{"p":18,"s":"k","t":594,"v":1.36},{"p":18,"s":"k","t":706,"v":0.9},{"p":18,"s":"k","t":838,"v":1.0},{"p":18,"s":"k","t":970,"v":0.85},{"p":18,"s":"k","t":1102,"v":1.3},{"p":18,"s":"k","t":1201,"v":0.8},{"p":18,"s":"k","t":1366,"v":0.95},{"p":18,"s":"k","t":1564,"v":1.0},{"p":18,"s":"k","t":1696,"v":1.05},{"p":18,"s":"k","t":1790,"v":2.0},{"p":18,"s":"k","t":1861,"v":3.52},{"p":18,"s":"k","t":1927,"v":1.2},{"p":18,"s":"k","t":1993,"v":1.0},{"p":18,"s":"k","t":2050,"v":2.5},{"p":18,"s":"k","t":2112,"v":4.27},{"p":18,"s":"k","t":2180,"v":2.2},{"p":18,"s":"k","t":2224,"v":1.5},{"p":18,"s":"k","t":2323,"v":0.95},{"p":18,"s":"k","t":2422,"v":0.8},{"p":18,"s":"k","t":2554,"v":1.0},{"p":18,"s":"k","t":2686,"v":0.85},{"p":18,"s":"k","t":2818,"v":0.7},{"p":18,"s":"k","t":2951,"v":0.95},{"p":18,"s":"k","t":3083,"v":0.7},{"p":18,"s":"k","t":3182,"v":0.9},{"p":18,"s":"k","t":3260,"v":1.6},{"p":18,"s":"k","t":3314,"v":2.3},{"p":18,"s":"k","t":3370,"v":1.6},{"p":18,"s":"k","t":3413,"v":1.2},{"p":18,"s":"k","t":3512,"v":1.15},{"p":18,"s":"k","t":3611,"v":1.35},{"p":18,"s":"k","t":3743,"v":0.9},{"p":18,"s":"k","t":3876,"v":0.8},{"p":18,"s":"k","t":4000,"v":0.35},
{"p":18,"s":"o","t":1850,"v":4.8},{"p":18,"s":"o","t":1855,"v":4.6},{"p":18,"s":"o","t":1865,"v":4.2},{"p":18,"s":"o","t":1870,"v":3.8},{"p":18,"s":"o","t":2100,"v":6.5},{"p":18,"s":"o","t":2105,"v":6.2},{"p":18,"s":"o","t":2115,"v":5.5},{"p":18,"s":"o","t":2120,"v":5.3},{"p":18,"s":"o","t":3305,"v":4.1},{"p":18,"s":"o","t":3310,"v":4.0},{"p":18,"s":"o","t":3320,"v":2.8},{"p":18,"s":"o","t":3325,"v":2.7},{"p":18,"s":"o","t":3650,"v":1.8},
{"p":18,"s":"r","t":0,"v":0},{"p":18,"s":"r","t":112,"v":0.45},{"p":18,"s":"r","t":178,"v":0.7},{"p":18,"s":"r","t":310,"v":1.31},{"p":18,"s":"r","t":409,"v":1.3},{"p":18,"s":"r","t":508,"v":1.77},{"p":18,"s":"r","t":607,"v":1.65},{"p":18,"s":"r","t":706,"v":1.75},{"p":18,"s":"r","t":838,"v":1.5},{"p":18,"s":"r","t":970,"v":1.3},{"p":18,"s":"r","t":1102,"v":1.2},{"p":18,"s":"r","t":1234,"v":1.7},{"p":18,"s":"r","t":1333,"v":1.4},{"p":18,"s":"r","t":1465,"v":1.35},{"p":18,"s":"r","t":1564,"v":1.15},{"p":18,"s":"r","t":1696,"v":1.0},{"p":18,"s":"r","t":1828,"v":1.25},{"p":18,"s":"r","t":1960,"v":1.6},{"p":18,"s":"r","t":2100,"v":1.84},{"p":18,"s":"r","t":2191,"v":1.8},{"p":18,"s":"r","t":2290,"v":1.45},{"p":18,"s":"r","t":2422,"v":1.1},{"p":18,"s":"r","t":2554,"v":1.0},{"p":18,"s":"r","t":2686,"v":0.9},{"p":18,"s":"r","t":2818,"v":0.85},{"p":18,"s":"r","t":2951,"v":0.9},{"p":18,"s":"r","t":3083,"v":0.8},{"p":18,"s":"r","t":3182,"v":1.2},{"p":18,"s":"r","t":3314,"v":1.25},{"p":18,"s":"r","t":3465,"v":1.65},{"p":18,"s":"r","t":3611,"v":1.3},{"p":18,"s":"r","t":3743,"v":1.1},{"p":18,"s":"r","t":3876,"v":1.2},{"p":18,"s":"r","t":4000,"v":1.2},
{"p":18,"s":"c","t":0,"v":1.3},{"p":18,"s":"c","t":112,"v":1.15},{"p":18,"s":"c","t":244,"v":1.35},{"p":18,"s":"c","t":376,"v":1.0},{"p":18,"s":"c","t":508,"v":1.2},{"p":18,"s":"c","t":800,"v":1.2},{"p":18,"s":"c","t":1100,"v":1.25},{"p":18,"s":"c","t":1400,"v":1.2},{"p":18,"s":"c","t":1696,"v":1.35},{"p":18,"s":"c","t":2000,"v":1.25},{"p":18,"s":"c","t":2200,"v":1.25},{"p":18,"s":"c","t":2455,"v":0.9},{"p":18,"s":"c","t":2719,"v":0.75},{"p":18,"s":"c","t":2851,"v":1.2},{"p":18,"s":"c","t":3083,"v":0.65},{"p":18,"s":"c","t":3300,"v":1.1},{"p":18,"s":"c","t":3600,"v":1.2},{"p":18,"s":"c","t":3876,"v":1.4},{"p":18,"s":"c","t":4000,"v":1.2},
{"p":18,"s":"d","t":0,"v":0.3},{"p":18,"s":"d","t":150,"v":0.9},{"p":18,"s":"d","t":400,"v":1.27},{"p":18,"s":"d","t":1500,"v":1.3},{"p":18,"s":"d","t":2800,"v":1.25},{"p":18,"s":"d","t":4000,"v":1.27}
]},
"facet":{"field":"p","type":"ordinal","header":{"labels":false,"labelExpr":"''","labelFontSize":0,"labelPadding":0,"labelColor":"white","title":null,"titlePadding":0}},
"columns":4,
"spacing":{"row":39,"column":39},
"bounds":"flush",
"resolve":{"axis":{"x":"independent","y":"independent"}},
"spec":{
"width":202,"height":211,
"layer":[
{"transform":[{"filter":"datum.s=='k'"}],
"mark":{"type":"line","color":"#7f7f7f","strokeWidth":4,"strokeDash":[0.1,4],"strokeCap":"round","interpolate":"monotone","clip":true},
"encoding":{"x":{"field":"t","type":"quantitative","scale":{"domain":[0,4000],"nice":false},"axis":{"values":[0,500,1000,1500,2000,2500,3000,3500,4000],"title":null}},
"y":{"field":"v","type":"quantitative","scale":{"domain":[0,8],"nice":false,"zero":false},"axis":{"values":[0,1,2,3,4,5,6,7,8],"title":null}}}},
{"transform":[{"filter":"datum.s=='o'"}],
"mark":{"type":"circle","color":"#7f7f7f","opacity":1,"size":14,"clip":true},
"encoding":{"x":{"field":"t","type":"quantitative","scale":{"domain":[0,4000],"nice":false}},"y":{"field":"v","type":"quantitative","scale":{"domain":[0,8],"nice":false,"zero":false}}}},
{"transform":[{"filter":"datum.s=='d'"}],
"mark":{"type":"line","color":"#8c564b","strokeWidth":2,"strokeDash":[7,4],"interpolate":"monotone","clip":true},
"encoding":{"x":{"field":"t","type":"quantitative","scale":{"domain":[0,4000],"nice":false}},"y":{"field":"v","type":"quantitative","scale":{"domain":[0,8],"nice":false,"zero":false}}}},
{"transform":[{"filter":"datum.s=='c'"}],
"mark":{"type":"line","color":"#17becf","strokeWidth":3,"interpolate":"monotone","clip":true},
"encoding":{"x":{"field":"t","type":"quantitative","scale":{"domain":[0,4000],"nice":false}},"y":{"field":"v","type":"quantitative","scale":{"domain":[0,8],"nice":false,"zero":false}}}},
{"transform":[{"filter":"datum.s=='k'"}],
"mark":{"type":"line","color":"black","strokeWidth":2.5,"interpolate":"monotone","clip":true},
"encoding":{"x":{"field":"t","type":"quantitative","scale":{"domain":[0,4000],"nice":false}},"y":{"field":"v","type":"quantitative","scale":{"domain":[0,8],"nice":false,"zero":false}}}},
{"transform":[{"filter":"datum.s=='r'"}],
"mark":{"type":"line","color":"#ff0000","strokeWidth":3.5,"interpolate":"monotone","clip":true},
"encoding":{"x":{"field":"t","type":"quantitative","scale":{"domain":[0,4000],"nice":false}},"y":{"field":"v","type":"quantitative","scale":{"domain":[0,8],"nice":false,"zero":false}}}},

{"transform":[{"filter":"datum.p==1&&datum.s=='k'&&datum.t==0"}],"mark":{"type":"rule","color":"#808080","strokeWidth":1.5},"encoding":{"x":{"datum":-4376},"y":{"datum":10.92},"y2":{"datum":-40.68}}},
{"transform":[{"filter":"datum.p==1&&datum.s=='k'&&datum.t==0"}],"mark":{"type":"rule","color":"#808080","strokeWidth":1.5},"encoding":{"x":{"datum":22316},"y":{"datum":10.92},"y2":{"datum":-40.68}}},
{"transform":[{"filter":"datum.p==1&&datum.s=='k'&&datum.t==0"}],"mark":{"type":"text","text":"A","font":"Liberation Sans","fontWeight":"bold","fontSize":19,"align":"center","baseline":"middle"},"encoding":{"x":{"datum":-515},"y":{"datum":9.78}}},
{"transform":[{"filter":"datum.p==1&&datum.s=='k'&&datum.t==0"}],"mark":{"type":"text","text":"Test Set Aₘₐₓ (B): Reconstruction of set B using set A for validation.","font":"Liberation Serif","fontSize":22.5,"align":"center","baseline":"middle","color":"#111"},"encoding":{"x":{"datum":9960},"y":{"datum":9.78}}},
{"transform":[{"filter":"datum.p==17&&datum.s=='k'&&datum.t==0"}],"mark":{"type":"text","text":"FIGURE 7 |","font":"Liberation Sans","fontWeight":"bold","fontSize":17,"align":"left","baseline":"middle","color":"#222"},"encoding":{"x":{"datum":-4099},"y":{"datum":-2.16}}},
{"transform":[{"filter":"datum.p==5&&datum.s=='k'&&datum.t==0"}],"mark":{"type":"text","text":"EMG envelope","font":"DejaVu Sans","fontSize":24,"angle":90,"align":"center","baseline":"middle"},"encoding":{"x":{"datum":-416},"y":{"datum":4.32}}},
{"transform":[{"filter":"datum.p==5&&datum.s=='k'&&datum.t==0"}],"mark":{"type":"text","text":"time (ms)","font":"DejaVu Sans","fontSize":24,"align":"center","baseline":"middle"},"encoding":{"x":{"datum":2020},"y":{"datum":-0.57}}},
{"transform":[{"filter":"datum.p==9&&datum.s=='k'&&datum.t==0"}],"mark":{"type":"text","text":"Arbitary Scale","font":"DejaVu Sans","fontSize":24,"angle":90,"align":"center","baseline":"middle"},"encoding":{"x":{"datum":-416},"y":{"datum":4.2}}},
{"transform":[{"filter":"datum.p==9&&datum.s=='k'&&datum.t==0"}],"mark":{"type":"text","text":"0","font":"DejaVu Sans","fontSize":24,"align":"center","baseline":"middle"},"encoding":{"x":{"datum":-139},"y":{"datum":-0.76}}},
{"transform":[{"filter":"datum.p==9&&datum.s=='k'&&datum.t==0"}],"mark":{"type":"text","text":"4000","font":"DejaVu Sans","fontSize":24,"align":"center","baseline":"middle"},"encoding":{"x":{"datum":3525},"y":{"datum":-0.76}}},
{"transform":[{"filter":"datum.p==18&&datum.s=='k'&&datum.t==0"}],"mark":{"type":"rule","color":"#7f7f7f","strokeWidth":2,"strokeDash":[2,2]},"encoding":{"x":{"datum":4950},"x2":{"datum":5505},"y":{"datum":7.51}}},
{"transform":[{"filter":"datum.p==18&&datum.s=='k'&&datum.t==0"}],"mark":{"type":"rule","color":"black","strokeWidth":1.5},"encoding":{"x":{"datum":4950},"x2":{"datum":5505},"y":{"datum":6.45}}},
{"transform":[{"filter":"datum.p==18&&datum.s=='k'&&datum.t==0"}],"mark":{"type":"rule","color":"#ff0000","strokeWidth":2.5,"strokeDash":[2,2]},"encoding":{"x":{"datum":4950},"x2":{"datum":5505},"y":{"datum":5.35}}},
{"transform":[{"filter":"datum.p==18&&datum.s=='k'&&datum.t==0"}],"mark":{"type":"rule","color":"#17becf","strokeWidth":2.5,"strokeDash":[2,2]},"encoding":{"x":{"datum":4950},"x2":{"datum":5505},"y":{"datum":4.25}}},
{"transform":[{"filter":"datum.p==18&&datum.s=='k'&&datum.t==0"}],"mark":{"type":"rule","color":"#8c564b","strokeWidth":1.5,"strokeDash":[4,3]},"encoding":{"x":{"datum":4950},"x2":{"datum":5505},"y":{"datum":3.15}}},
{"transform":[{"filter":"datum.p==18&&datum.s=='k'&&datum.t==0"}],"mark":{"type":"text","text":"EMG Envelope, σ = 10ms","font":"DejaVu Sans","fontSize":17,"align":"left","baseline":"middle"},"encoding":{"x":{"datum":5861},"y":{"datum":7.51}}},
{"transform":[{"filter":"datum.p==18&&datum.s=='k'&&datum.t==0"}],"mark":{"type":"text","text":"EMG Envelope, 5Hz","font":"DejaVu Sans","fontSize":17,"align":"left","baseline":"middle"},"encoding":{"x":{"datum":5861},"y":{"datum":6.45}}},
{"transform":[{"filter":"datum.p==18&&datum.s=='k'&&datum.t==0"}],"mark":{"type":"text","text":"CNN, R = 0.378, R² = 0.238","font":"DejaVu Sans","fontSize":17,"align":"left","baseline":"middle"},"encoding":{"x":{"datum":5861},"y":{"datum":5.35}}},
{"transform":[{"filter":"datum.p==18&&datum.s=='k'&&datum.t==0"}],"mark":{"type":"text","text":"Linear, R = 0.095, R² = 0.046","font":"DejaVu Sans","fontSize":17,"align":"left","baseline":"middle"},"encoding":{"x":{"datum":5861},"y":{"datum":4.25}}},
{"transform":[{"filter":"datum.p==18&&datum.s=='k'&&datum.t==0"}],"mark":{"type":"text","text":"Control, R = − 0.004, R² = − 0.017","font":"DejaVu Sans","fontSize":17,"align":"left","baseline":"middle"},"encoding":{"x":{"datum":5861},"y":{"datum":3.15}}},
{"transform":[{"filter":"datum.p==18&&datum.s=='k'&&datum.t==0"}],"mark":{"type":"text","text":"RAT 3, Triceps, Day 25","font":"DejaVu Sans","fontSize":25,"align":"left","baseline":"middle"},"encoding":{"x":{"datum":4832},"y":{"datum":1.59}}},
{"transform":[{"filter":"datum.p==18&&datum.s=='k'&&datum.t==0"}],"mark":{"type":"text","text":"Validation Grp A, Showing Test Grp B","font":"DejaVu Sans","fontSize":25,"align":"left","baseline":"middle"},"encoding":{"x":{"datum":4832},"y":{"datum":0.49}}}
]},
"config":{"view":{"stroke":"#333333","strokeWidth":1},
"header":{"labels":false,"labelExpr":"''","labelFontSize":0,"labelPadding":0,"labelColor":"white","title":null,"titlePadding":0},
"headerFacet":{"labels":false,"labelExpr":"''","labelFontSize":0,"labelPadding":0,"labelColor":"white","title":null,"titlePadding":0},
"axis":{"grid":true,"gridColor":"#b0b0b0","gridWidth":1,"labels":false,"domain":false,"ticks":true,"tickSize":3,"tickColor":"#666666","tickWidth":0.8,"title":null}}
}
